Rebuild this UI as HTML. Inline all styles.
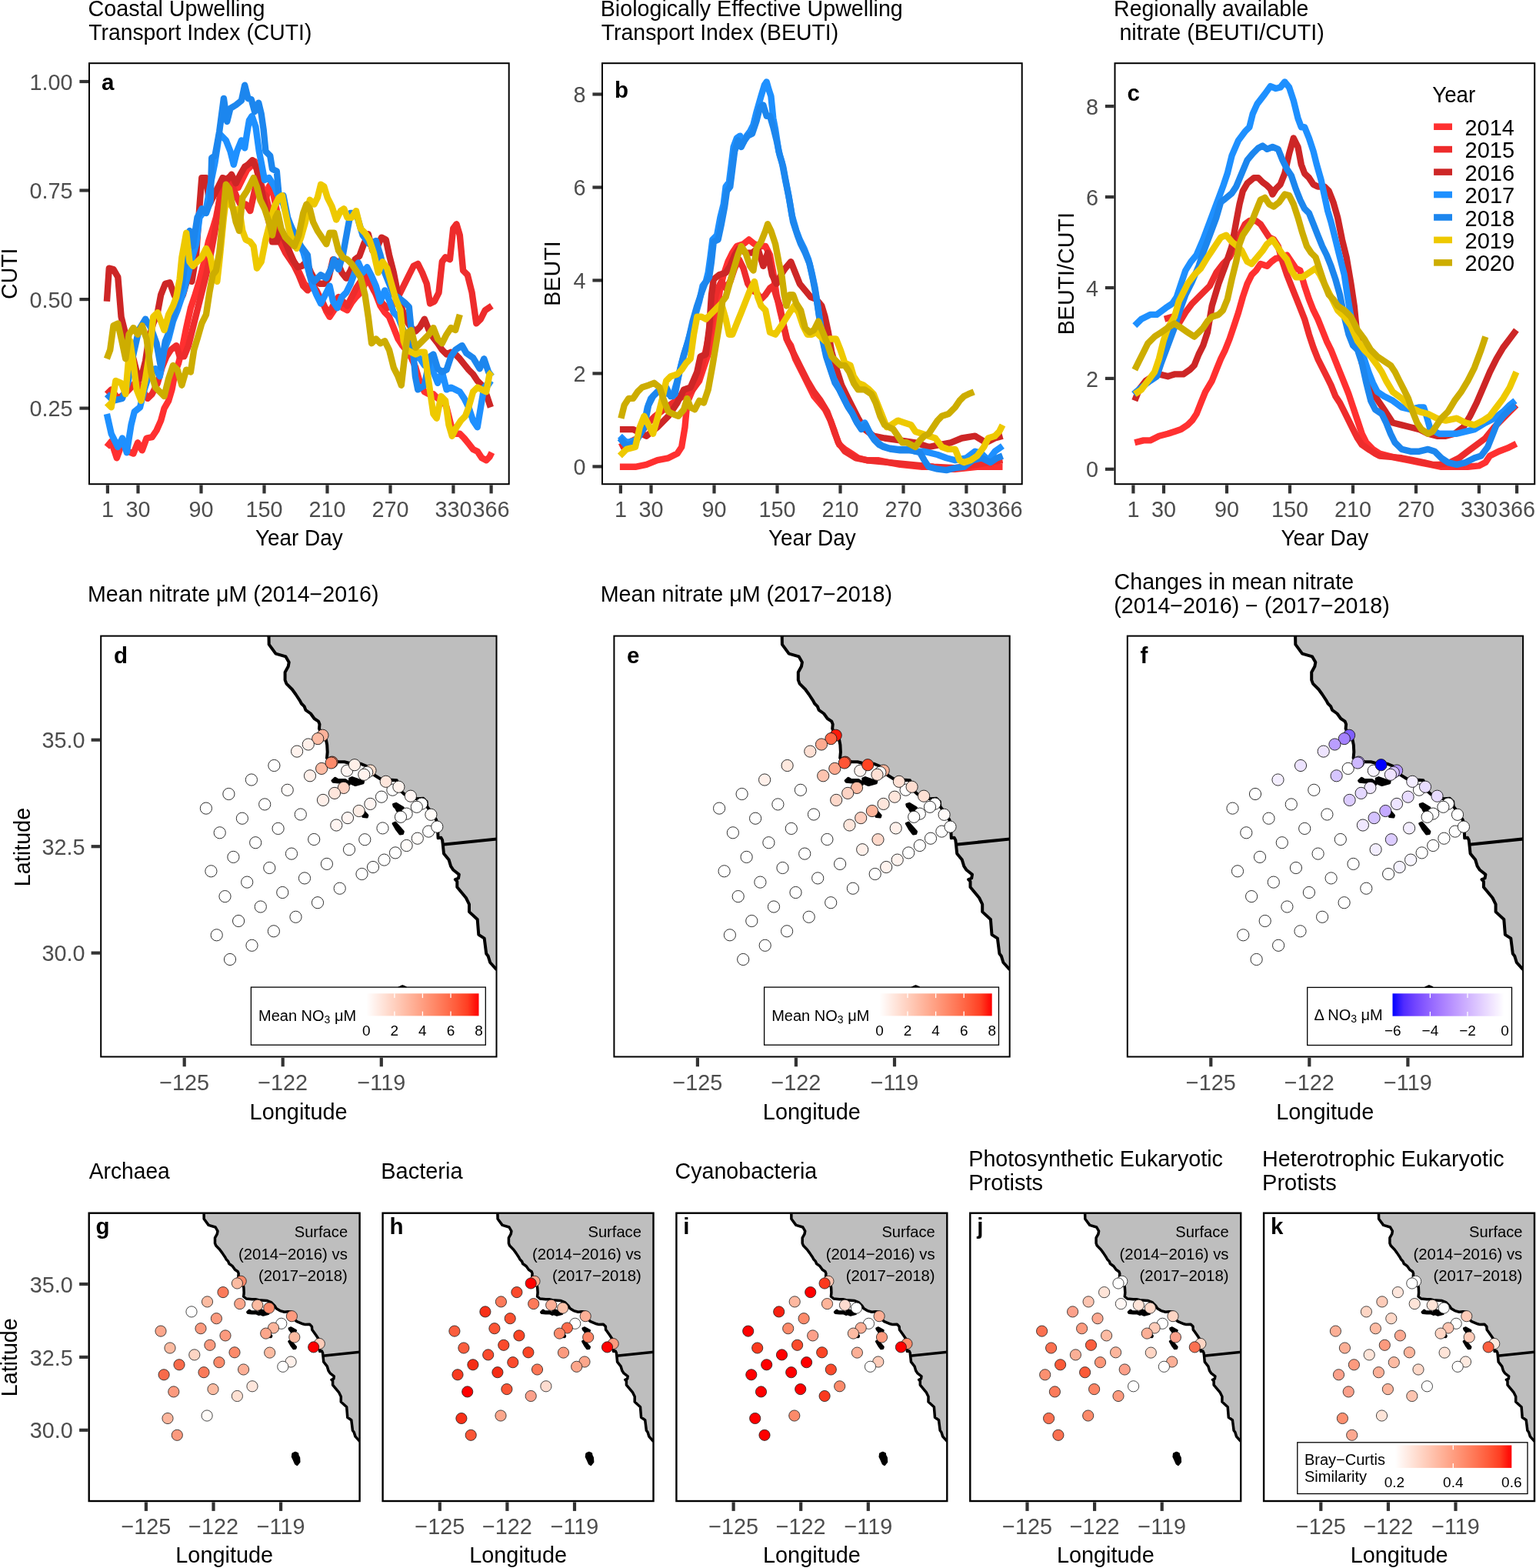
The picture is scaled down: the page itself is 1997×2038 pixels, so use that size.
<!DOCTYPE html><html><head><meta charset="utf-8"><style>html,body{margin:0;padding:0;background:#fff}svg{display:block}</style></head><body>
<svg xmlns="http://www.w3.org/2000/svg" width="1997" height="2038" viewBox="0 0 1997 2038" font-family="'Liberation Sans', Arial, Helvetica, sans-serif">
<rect width="1997" height="2038" fill="#fff"/>
<defs>
<linearGradient id="gR" x1="0" x2="1" y1="0" y2="0"><stop offset="0.000" stop-color="#FFFFFF"/><stop offset="0.100" stop-color="#FFECE5"/><stop offset="0.200" stop-color="#FFD9CB"/><stop offset="0.300" stop-color="#FFC6B2"/><stop offset="0.400" stop-color="#FFB299"/><stop offset="0.500" stop-color="#FF9E81"/><stop offset="0.600" stop-color="#FF8969"/><stop offset="0.700" stop-color="#FF7352"/><stop offset="0.800" stop-color="#FF5B3A"/><stop offset="0.900" stop-color="#FF3E22"/><stop offset="1.000" stop-color="#FF0000"/></linearGradient>
<linearGradient id="gB" x1="0" x2="1" y1="0" y2="0"><stop offset="0.000" stop-color="#0000FF"/><stop offset="0.100" stop-color="#502BFF"/><stop offset="0.200" stop-color="#7145FF"/><stop offset="0.300" stop-color="#8A5DFF"/><stop offset="0.400" stop-color="#A074FF"/><stop offset="0.500" stop-color="#B38BFF"/><stop offset="0.600" stop-color="#C4A2FF"/><stop offset="0.700" stop-color="#D4B9FF"/><stop offset="0.800" stop-color="#E3D0FF"/><stop offset="0.900" stop-color="#F2E7FF"/><stop offset="1.000" stop-color="#FFFFFF"/></linearGradient>
</defs>
<text transform="translate(114.4 21.4) scale(1 1.0)" font-size="28.8" textLength="230.08" lengthAdjust="spacingAndGlyphs">Coastal Upwelling</text>
<text transform="translate(115.2 52.2) scale(1 1.0)" font-size="28.8" textLength="290.16" lengthAdjust="spacingAndGlyphs">Transport Index (CUTI)</text>
<text transform="translate(780.7 21.4) scale(1 1.0)" font-size="28.8" textLength="393.09" lengthAdjust="spacingAndGlyphs">Biologically Effective Upwelling</text>
<text transform="translate(781.8 52.2) scale(1 1.0)" font-size="28.8" textLength="308.35" lengthAdjust="spacingAndGlyphs">Transport Index (BEUTI)</text>
<text transform="translate(1448.1 21.4) scale(1 1.0)" font-size="28.8" textLength="253.23" lengthAdjust="spacingAndGlyphs">Regionally available</text>
<text transform="translate(1455.4 52.2) scale(1 1.0)" font-size="28.8" textLength="266.31" lengthAdjust="spacingAndGlyphs">nitrate (BEUTI/CUTI)</text>
<clipPath id="cp0"><rect x="116" y="82.2" width="545.7" height="547"/></clipPath>
<g clip-path="url(#cp0)" fill="none" stroke-width="8.4" stroke-linejoin="round" stroke-linecap="butt">
<path d="M138.9 581 L144.7 573.8 L151.8 595.3 L159 575.3 L166.2 586.7 L173.4 589.6 L179.1 575.3 L184.8 585.3 L190.6 569.5 L197.7 568.1 L203.5 559.5 L209.2 546.6 L213.5 530.8 L219.2 520.8 L223.5 506.4 L227.8 483.5 L232.1 472 L236.4 454.8 L242.2 426.1 L247.9 400.3 L253.7 383.1 L259.4 364.5 L265.1 341.5 L270.9 314.3 L276.6 297.1 L280.9 282.7 L286.6 254.1 L292.4 241.2 L298.1 231.1 L303.8 235.4 L309.6 244 L315.3 232.6 L321 221.1 L326.8 215.4 L331.1 209.6 L335.4 226.8 L341.1 244 L345.4 259.8 L349.7 242.6 L352.6 238.3 L356.9 259.8 L361.2 279.9 L365.5 302.8 L371.2 314.3 L377 328.6 L382.7 341.5 L389.9 355.9 L395.6 368.8 L401.3 374.5 L407.1 368.8 L412.8 383.1 L418.6 390.3 L424.3 404.6 L428.6 411.8 L434.3 403.2 L440.1 393.2 L445.8 400.3 L451.5 403.2 L457.3 393.2 L463 386 L468.7 380.3 L474.5 368.8 L481.6 364.5 L488.8 383.1 L494.5 397.5 L500.3 406.1 L506 411.8 L511.8 426.1 L517.5 440.5 L523.2 449.1 L529 456.2 L534.7 464.9 L540.4 477.8 L546.2 497.8 L551.9 509.3 L557.6 512.2 L563.4 512.2 L569.1 517.9 L574.8 517.9 L580.6 529.4 L586.3 552.3 L592.1 563.8 L597.8 563.8 L603.5 569.5 L609.3 576.7 L615 583.9 L620.7 586.7 L626.5 595.3 L632.2 598.2 L636.5 593.9 L639.4 588.2" stroke="#FF3030"/>
<path d="M138.9 512.2 L144.7 506.4 L153.3 517.9 L161.9 512.2 L170.5 503.6 L177.7 495 L184.8 506.4 L192 517.9 L197.7 512.2 L204.9 497.8 L210.6 477.8 L216.4 463.4 L222.1 454.8 L229.3 449.1 L233.6 463.4 L239.3 463.4 L245.1 449.1 L250.8 426.1 L256.5 403.2 L262.3 380.3 L268 357.3 L273.7 331.5 L279.5 300 L285.2 259.8 L290.9 236.9 L296.7 231.1 L302.4 242.6 L308.1 256.9 L313.9 268.4 L319.6 265.5 L325.3 274.1 L329.7 254.1 L334 234 L339.7 248.3 L345.4 254.1 L349.7 271.3 L354 288.5 L359.8 308.6 L365.5 317.2 L371.2 328.6 L377 337.2 L382.7 345.8 L388.4 357.3 L394.2 371.6 L399.9 377.4 L405.6 371.6 L411.4 377.4 L417.1 388.9 L422.9 400.3 L428.6 406.1 L434.3 394.6 L440.1 386 L445.8 391.7 L451.5 397.5 L457.3 386 L463 374.5 L468.7 365.9 L474.5 357.3 L480.2 365.9 L485.9 377.4 L491.7 386 L497.4 394.6 L503.2 400.3 L508.9 397.5 L514.6 391.7 L520.4 380.3 L526.1 368.8 L531.8 357.3 L537.6 345.8 L543.3 343 L549 354.4 L554.8 368.8 L559.1 394.6 L564.8 391.7 L570.5 380.3 L574.8 340.1 L579.1 334.4 L584.9 337.2 L589.2 297.1 L593.5 291.3 L597.8 305.7 L602.1 351.6 L607.8 357.3 L613.6 380.3 L619.3 420.4 L625 414.7 L630.8 403.2 L639.4 397.5" stroke="#EE2C2C"/>
<path d="M138.9 391.7 L141.8 348.7 L147.5 350.1 L153.3 360.2 L157.6 411.8 L163.3 434.7 L169.1 451.9 L173.4 466.3 L177.7 483.5 L183.4 492.1 L189.1 469.2 L193.4 440.5 L199.2 420.4 L204.9 406.1 L209.2 383.1 L214.9 368.8 L220.7 367.3 L226.4 383.1 L232.1 394.6 L237.9 383.1 L243.6 363 L249.4 365.9 L255.1 331.5 L259.4 268.4 L262.3 231.1 L268 231.1 L272.3 265.5 L278 254.1 L283.8 242.6 L289.5 231.1 L295.2 234 L301 226.8 L306.7 238.3 L312.4 226.8 L318.2 216.8 L322.5 213.9 L328.2 208.2 L334 219.7 L339.7 245.5 L344 265.5 L349.7 288.5 L354 314.3 L359.8 314.3 L364.1 300 L369.8 311.4 L375.5 325.8 L381.3 338.7 L387 347.3 L392.7 345.8 L398.5 340.1 L404.2 354.4 L409.9 364.5 L415.7 368.8 L421.4 368.8 L427.2 361.6 L432.9 337.2 L438.6 340.1 L444.4 354.4 L450.1 361.6 L455.8 351.6 L461.6 337.2 L467.3 332.9 L473 317.2 L478.8 304.3 L484.5 325.8 L490.2 321.5 L496 308.6 L501.7 311.4 L506 331.5 L511.8 354.4 L517.5 383.1 L523.2 403.2 L529 417.5 L534.7 426.1 L540.4 430.4 L546.2 424.7 L551.9 414.7 L557.6 429 L563.4 439 L569.1 446.2 L574.8 454.8 L580.6 460.5 L586.3 457.7 L592.1 460.5 L597.8 466.3 L603.5 473.5 L609.3 480.6 L615 486.4 L620.7 495 L626.5 500.7 L632.2 512.2 L637.9 529.4" stroke="#CD2626"/>
<path d="M138.9 538 L144.7 563.8 L153.3 581 L159 569.5 L164.8 588.2 L170.5 552.3 L174.8 535.1 L182 529.4 L187.7 506.4 L194.9 483.5 L202 479.2 L207.8 489.2 L213.5 454.8 L219.2 440.5 L225 417.5 L230.7 403.2 L239.3 377.4 L245.1 354.4 L250.8 331.5 L255.1 317.2 L259.4 282.7 L268 271.3 L273.7 239.7 L279.5 211.1 L285.2 173.8 L293.8 182.4 L299.5 196.7 L303.8 213.9 L308.1 196.7 L313.9 182.4 L318.2 192.4 L321 173.8 L323.9 156.6 L327.6 150.8 L332.5 165.2 L336.8 196.7 L339.7 211.1 L344 234 L349.7 231.1 L356.9 242.6 L362.6 256.9 L368.4 265.5 L374.1 285.6 L379.8 297.1 L387 311.4 L394.2 327.2 L399.9 347.3 L405.6 368.8 L411.4 383.1 L417.1 394.6 L422.9 383.1 L428.6 371.6 L432.9 391.7 L438.6 400.3 L444.4 386 L450.1 380.3 L455.8 368.8 L460.1 357.3 L465.9 341.5 L471.6 354.4 L477.3 347.3 L483.1 358.7 L488.8 371.6 L494.5 391.7 L500.3 377.4 L506 390.3 L511.8 406.1 L517.5 411.8 L523.2 426.1 L529 440.5 L534.7 454.8 L540.4 463.4 L546.2 466.3 L551.9 474.9 L557.6 466.3 L563.4 483.5 L569.1 497.8 L574.8 483.5 L580.6 506.4 L586.3 503.6 L592.1 506.4 L597.8 509.3 L603.5 517.9 L609.3 529.4 L615 546.6 L620.7 555.2 L625 529.4 L629.3 503.6 L635.1 497.8 L639.4 500.7" stroke="#1E90FF"/>
<path d="M138.9 512.2 L147.5 520.8 L159 517.9 L166.2 497.8 L173.4 460.5 L180.5 429 L189.1 414.7 L196.3 426.1 L203.5 446.2 L209.2 477.8 L214.9 443.3 L222.1 426.1 L229.3 394.6 L236.4 371.6 L242.2 331.5 L246.5 300 L250.8 320 L256.5 282.7 L262.3 271.3 L268 277 L273.7 261.2 L275.2 205.3 L279.5 202.4 L285.2 170.9 L290.9 127.9 L295.2 158 L299.5 140.8 L306.7 136.5 L313.9 130.8 L318.2 110.7 L322.5 127.9 L326.8 129.3 L331.1 145.1 L336.2 133.6 L339.7 148 L342.6 168 L345.4 196.7 L351.2 202.4 L354 219.7 L359.8 222.5 L362.6 254.1 L368.4 254.1 L374.1 282.7 L382.7 305.7 L391.3 320 L399.9 331.5 L402.8 357.3 L408.5 365.9 L417.1 357.3 L424.3 361.6 L430 350.1 L434.3 337.2 L440.1 350.1 L445.8 331.5 L451.5 300 L455.8 277 L463 277 L471.6 305.7 L480.2 317.2 L488.8 312.9 L494.5 331.5 L500.3 354.4 L506 368.8 L511.8 383.1 L518.9 387.4 L526.1 393.2 L531.8 398.9 L536.1 443.3 L539.9 489.2 L543.3 506.4 L547.6 503.6 L551.9 500.7 L559.1 463.4 L563.4 460.5 L569.1 479.2 L574.8 483.5 L580.6 480.6 L586.3 463.4 L592.1 454.8 L600.7 449.1 L606.4 459.1 L615 464.9 L623.6 479.2 L629.3 466.3 L635.1 483.5 L639.4 489.2" stroke="#1C86EE"/>
<path d="M138.9 523.6 L144.7 529.4 L150.4 495 L157.6 497.8 L163.3 512.2 L169.1 443.3 L173.4 472 L177.7 506.4 L183.4 520.8 L189.1 492.1 L194.9 454.8 L199.2 411.8 L204.9 406.1 L209.2 417.5 L213.5 429 L219.2 408.9 L225 397.5 L229.3 386 L233.6 363 L236.4 334.4 L242.2 302.8 L246.5 340.1 L250.8 345.8 L256.5 340.1 L262.3 334.4 L268 322.9 L273.7 334.4 L278 357.3 L282.3 365.9 L285.2 340.1 L288.1 311.4 L290.9 282.7 L293.8 259.8 L299.5 265.5 L305.3 274.1 L311 271.3 L315.3 300 L319.6 311.4 L325.3 314.3 L329.7 320 L334 348.7 L339.7 340.1 L345.4 311.4 L351.2 288.5 L356.9 268.4 L362.6 256.9 L366.9 254.1 L371.2 277 L375.5 297.1 L379.8 311.4 L385.6 322.9 L391.3 308.6 L397 288.5 L402.8 259.8 L408.5 265.5 L412.8 256.9 L417.1 239.7 L421.4 242.6 L425.7 256.9 L431.5 268.4 L437.2 285.6 L442.9 274.1 L447.2 271.3 L451.5 282.7 L457.3 282.7 L463 274.1 L468.7 297.1 L474.5 302.8 L480.2 311.4 L485.9 328.6 L491.7 354.4 L497.4 340.1 L503.2 348.7 L508.9 368.8 L514.6 388.9 L520.4 403.2 L524.7 443.3 L529 454.8 L534.7 457.7 L540.4 460.5 L546.2 457.7 L551.9 457.7 L557.6 497.8 L563.4 538 L567.7 543.7 L573.4 515 L579.1 520.8 L583.5 552.3 L587.8 566.7 L593.5 555.2 L599.2 546.6 L605 540.8 L609.3 529.4 L615 509.3 L620.7 503.6 L626.5 506.4 L632.2 509.3 L636.5 486.4 L639.4 483.5" stroke="#EEC900"/>
<path d="M138.9 466.3 L143.2 454.8 L147.5 423.3 L153.3 420.4 L159 446.2 L163.3 466.3 L167.6 434.7 L173.4 426.1 L179.1 434.7 L184.8 423.3 L190.6 440.5 L196.3 483.5 L202 503.6 L207.8 509.3 L213.5 515 L219.2 492.1 L225 474.9 L230.7 480.6 L236.4 500.7 L242.2 480.6 L247.9 483.5 L252.2 454.8 L256.5 440.5 L262.3 420.4 L268 408.9 L272.3 380.3 L276.6 357.3 L280.9 351.6 L285.2 328.6 L289.5 285.6 L293.8 239.7 L298.1 245.5 L302.4 268.4 L306.7 288.5 L311 300 L315.3 256.9 L321 248.3 L326.8 236.9 L329.7 231.1 L334 242.6 L338.3 259.8 L344 271.3 L349.7 288.5 L354 305.7 L358.3 282.7 L361.2 277 L365.5 297.1 L371.2 308.6 L377 314.3 L382.7 320 L388.4 305.7 L394.2 277 L398.5 265.5 L402.8 271.3 L407.1 288.5 L412.8 300 L418.6 308.6 L424.3 317.2 L428.6 302.8 L434.3 302.8 L440.1 325.8 L445.8 334.4 L451.5 337.2 L457.3 343 L463 351.6 L468.7 360.2 L474.5 383.1 L478.8 411.8 L483.1 446.2 L488.8 440.5 L494.5 446.2 L500.3 443.3 L506 454.8 L511.8 477.8 L517.5 489.2 L521.8 500.7 L526.1 463.4 L530.4 431.9 L534.7 429 L540.4 451.9 L546.2 446.2 L551.9 440.5 L557.6 434.7 L563.4 426.1 L569.1 440.5 L574.8 446.2 L580.6 434.7 L586.3 426.1 L592.1 429 L597.8 408.9" stroke="#CDAD00"/>
</g>
<rect x="116" y="82.2" width="545.7" height="547" fill="none" stroke="#000" stroke-width="2"/>
<line x1="103.4" y1="106" x2="115" y2="106" stroke="#333333" stroke-width="4.2"/>
<text transform="translate(94.5 116.6) scale(1 1.0)" font-size="28.8" text-anchor="end" fill="#4D4D4D">1.00</text>
<line x1="103.4" y1="247.5" x2="115" y2="247.5" stroke="#333333" stroke-width="4.2"/>
<text transform="translate(94.5 258.1) scale(1 1.0)" font-size="28.8" text-anchor="end" fill="#4D4D4D">0.75</text>
<line x1="103.4" y1="389.1" x2="115" y2="389.1" stroke="#333333" stroke-width="4.2"/>
<text transform="translate(94.5 399.7) scale(1 1.0)" font-size="28.8" text-anchor="end" fill="#4D4D4D">0.50</text>
<line x1="103.4" y1="530.6" x2="115" y2="530.6" stroke="#333333" stroke-width="4.2"/>
<text transform="translate(94.5 541.2) scale(1 1.0)" font-size="28.8" text-anchor="end" fill="#4D4D4D">0.25</text>
<line x1="139.9" y1="630.4" x2="139.9" y2="641.4" stroke="#333333" stroke-width="4.2"/>
<text transform="translate(139.9 671.6) scale(1 1.0)" font-size="28.8" text-anchor="middle" fill="#4D4D4D">1</text>
<line x1="179.5" y1="630.4" x2="179.5" y2="641.4" stroke="#333333" stroke-width="4.2"/>
<text transform="translate(179.5 671.6) scale(1 1.0)" font-size="28.8" text-anchor="middle" fill="#4D4D4D">30</text>
<line x1="261.5" y1="630.4" x2="261.5" y2="641.4" stroke="#333333" stroke-width="4.2"/>
<text transform="translate(261.5 671.6) scale(1 1.0)" font-size="28.8" text-anchor="middle" fill="#4D4D4D">90</text>
<line x1="343.5" y1="630.4" x2="343.5" y2="641.4" stroke="#333333" stroke-width="4.2"/>
<text transform="translate(343.5 671.6) scale(1 1.0)" font-size="28.8" text-anchor="middle" fill="#4D4D4D">150</text>
<line x1="425.5" y1="630.4" x2="425.5" y2="641.4" stroke="#333333" stroke-width="4.2"/>
<text transform="translate(425.5 671.6) scale(1 1.0)" font-size="28.8" text-anchor="middle" fill="#4D4D4D">210</text>
<line x1="507.5" y1="630.4" x2="507.5" y2="641.4" stroke="#333333" stroke-width="4.2"/>
<text transform="translate(507.5 671.6) scale(1 1.0)" font-size="28.8" text-anchor="middle" fill="#4D4D4D">270</text>
<line x1="589.4" y1="630.4" x2="589.4" y2="641.4" stroke="#333333" stroke-width="4.2"/>
<text transform="translate(589.4 671.6) scale(1 1.0)" font-size="28.8" text-anchor="middle" fill="#4D4D4D">330</text>
<line x1="638.6" y1="630.4" x2="638.6" y2="641.4" stroke="#333333" stroke-width="4.2"/>
<text transform="translate(638.6 671.6) scale(1 1.0)" font-size="28.8" text-anchor="middle" fill="#4D4D4D">366</text>
<text transform="translate(331.9 708.8) scale(1 1.0)" font-size="28.8" textLength="113.88" lengthAdjust="spacingAndGlyphs">Year Day</text>
<text transform="translate(22.3 387.5) rotate(-90)" x="-1.4" y="0" font-size="28.8" textLength="66.37" lengthAdjust="spacingAndGlyphs">CUTI</text>
<text transform="translate(132 117.1) scale(1 1.0)" font-size="29.5" font-weight="bold">a</text>
<clipPath id="cp1"><rect x="783" y="82.2" width="545.7" height="547"/></clipPath>
<g clip-path="url(#cp1)" fill="none" stroke-width="8.4" stroke-linejoin="round" stroke-linecap="butt">
<path d="M805.9 606.8 L826 606.8 L840.4 603.9 L854.7 598.2 L869 595.3 L880.5 589.6 L886.2 581 L890.5 555.2 L893.4 523.6 L900.6 506.4 L909.2 495 L914.9 477.8 L920.7 460.5 L926.4 434.7 L932.1 403.2 L936.4 374.5 L940.7 357.3 L946.5 340.1 L952.2 328.6 L957.9 320 L966.5 317.2 L973.7 311.4 L980.9 317.2 L988 320 L995.2 320 L1001 331.5 L1005.3 354.4 L1009.6 383.1 L1013.9 403.2 L1018.2 420.4 L1022.5 440.5 L1028.2 449.1 L1033.9 466.3 L1039.7 477.8 L1045.4 489.2 L1051.1 500.7 L1058.3 515 L1065.5 523.6 L1072.6 532.2 L1079.8 546.6 L1085.6 563.8 L1091.3 578.1 L1098.5 583.9 L1107.1 589.6 L1115.7 595.3 L1127.1 598.2 L1141.5 598.2 L1155.8 601.1 L1170.2 603.9 L1184.5 605.4 L1198.8 606.8 L1213.2 606.8 L1227.5 609.7 L1241.8 609.7 L1256.2 608.2 L1270.5 606.8 L1284.9 606.8 L1303.5 606.8" stroke="#FF3030"/>
<path d="M805.9 581 L817.4 575.3 L828.9 569.5 L840.4 552.3 L851.8 540.8 L863.3 532.2 L874.8 523.6 L883.4 517.9 L892 512.2 L900.6 506.4 L906.3 497.8 L912.1 477.8 L917.8 454.8 L923.5 426.1 L927.8 397.5 L932.1 377.4 L937.9 365.9 L943.6 374.5 L949.3 365.9 L955.1 348.7 L960.8 337.2 L966.5 348.7 L972.3 368.8 L978 377.4 L983.7 380.3 L989.5 388.9 L995.2 383.1 L1001 374.5 L1005.3 371.6 L1009.6 386 L1013.9 397.5 L1018.2 420.4 L1023.9 443.3 L1029.6 454.8 L1035.4 466.3 L1041.1 477.8 L1049.7 495 L1058.3 509.3 L1066.9 520.8 L1075.5 535.1 L1084.1 558.1 L1089.9 575.3 L1098.5 586.7 L1112.8 595.3 L1127.1 598.2 L1155.8 601.1 L1184.5 603.9 L1213.2 606.8 L1241.8 608.2 L1270.5 603.9 L1284.9 601.1 L1303.5 598.2" stroke="#EE2C2C"/>
<path d="M805.9 558.1 L823.1 558.1 L840.4 566.7 L854.7 555.2 L869 540.8 L880.5 523.6 L889.1 506.4 L897.7 503.6 L906.3 483.5 L910.6 463.4 L917.8 460.5 L922.1 426.1 L925 383.1 L927.8 363 L935 357.3 L943.6 354.4 L949.3 345.8 L955.1 331.5 L960.8 322.9 L969.4 328.6 L978 328.6 L985.2 322.9 L992.3 345.8 L998.1 328.6 L1003.8 357.3 L1009.6 368.8 L1015.3 357.3 L1021 348.7 L1028.2 340.1 L1033.9 354.4 L1039.7 368.8 L1046.8 377.4 L1054 386 L1061.2 388.9 L1068.3 397.5 L1072.6 411.8 L1076.9 431.9 L1081.3 457.7 L1087 477.8 L1094.2 500.7 L1101.3 515 L1108.5 529.4 L1115.7 543.7 L1124.3 558.1 L1135.7 566.7 L1150.1 569.5 L1170.2 572.4 L1190.2 575.3 L1207.4 581 L1221.8 578.1 L1236.1 575.3 L1250.5 569.5 L1267.7 566.7 L1282 575.3 L1293.5 569.5 L1303.5 566.7" stroke="#CD2626"/>
<path d="M805.9 566.7 L814.5 575.3 L826 572.4 L836.1 558.1 L841.8 529.4 L846.1 517.9 L854.7 509.3 L863.3 506.4 L869 512.2 L874.8 515 L880.5 495 L886.2 472 L892 451.9 L897.7 431.9 L903.4 411.8 L909.2 391.7 L913.5 371.6 L917.8 365.9 L920.7 354.4 L923.5 334.4 L926.4 311.4 L932.1 305.7 L936.4 282.7 L940.7 265.5 L943.6 242.6 L947.9 236.9 L950.8 213.9 L953.6 191 L957.9 179.5 L962.2 176.6 L966.5 185.2 L970.8 176.6 L975.1 170.9 L979.4 162.3 L983.7 145.1 L989.5 125 L993.8 110.7 L996.7 106.4 L999.5 116.4 L1002.4 125 L1005.3 153.7 L1008.1 168 L1012.4 196.7 L1016.7 211.1 L1021 234 L1025.3 254.1 L1029.6 279.9 L1035.4 300 L1039.7 311.4 L1045.4 322.9 L1051.1 337.2 L1055.4 354.4 L1059.7 374.5 L1064 403.2 L1068.3 431.9 L1072.6 454.8 L1078.4 474.9 L1084.1 492.1 L1089.9 503.6 L1095.6 515 L1101.3 526.5 L1107.1 535.1 L1112.8 546.6 L1118.5 555.2 L1124.3 549.5 L1130 560.9 L1135.7 569.5 L1141.5 575.3 L1147.2 579.6 L1155.8 582.4 L1167.3 583.9 L1178.8 583.9 L1190.2 586.7 L1200.3 586.7 L1207.4 588.2 L1218.9 591 L1230.4 595.3 L1241.8 598.2 L1256.2 595.3 L1267.7 586.7 L1276.3 589.6 L1284.9 598.2 L1293.5 586.7 L1303.5 579.6" stroke="#1E90FF"/>
<path d="M805.9 569.5 L814.5 579.6 L826 575.3 L837.5 555.2 L843.2 526.5 L849 515 L857.6 506.4 L866.2 503.6 L871.9 515 L877.6 512.2 L883.4 483.5 L889.1 460.5 L894.8 443.3 L900.6 417.5 L906.3 397.5 L912.1 380.3 L916.4 368.8 L922.1 360.2 L925 340.1 L927.8 314.3 L933.6 311.4 L937.9 291.3 L942.2 268.4 L945 248.3 L949.3 242.6 L952.2 219.7 L955.1 196.7 L959.4 182.4 L963.7 191 L968 182.4 L972.3 176.6 L978 173.8 L983.7 156.6 L988 139.4 L992.3 136.5 L996.7 150.8 L1001 150.8 L1005.3 165.2 L1009.6 182.4 L1013.9 202.4 L1018.2 216.8 L1022.5 239.7 L1026.8 262.7 L1031.1 288.5 L1036.8 305.7 L1041.1 317.2 L1046.8 328.6 L1052.6 343 L1056.9 363 L1061.2 386 L1065.5 414.7 L1069.8 443.3 L1074.1 463.4 L1079.8 480.6 L1085.6 497.8 L1091.3 506.4 L1097 517.9 L1102.8 529.4 L1108.5 538 L1114.2 549.5 L1120 558.1 L1125.7 552.3 L1131.4 563.8 L1137.2 572.4 L1142.9 578.1 L1148.6 581 L1158.7 583.9 L1170.2 585.3 L1184.5 585.3 L1196 588.2 L1201.7 598.2 L1207.4 606.8 L1218.9 609.7 L1230.4 611.1 L1241.8 608.2 L1253.3 606.8 L1264.8 598.2 L1276.3 595.3 L1287.7 601.1 L1296.3 595.3 L1303.5 592.5" stroke="#1C86EE"/>
<path d="M805.9 592.5 L814.5 583.9 L826 581 L831.8 555.2 L837.5 540.8 L843.2 552.3 L849 563.8 L854.7 543.7 L860.4 520.8 L866.2 495 L871.9 489.2 L880.5 486.4 L886.2 480.6 L892 472 L897.7 466.3 L902 434.7 L906.3 411.8 L912.1 411.8 L917.8 414.7 L923.5 408.9 L932.1 400.3 L937.9 394.6 L943.6 414.7 L947.9 434.7 L952.2 434.7 L957.9 420.4 L963.7 406.1 L969.4 391.7 L975.1 377.4 L980.9 365.9 L985.2 386 L989.5 397.5 L995.2 403.2 L1001 431.9 L1008.1 434.7 L1013.9 426.1 L1019.6 417.5 L1026.8 406.1 L1032.5 397.5 L1038.2 406.1 L1044 423.3 L1049.7 434.7 L1055.4 434.7 L1061.2 431.9 L1066.9 437.6 L1072.6 443.3 L1078.4 440.5 L1087 440.5 L1092.7 454.8 L1098.5 472 L1105.6 474.9 L1109.9 489.2 L1115.7 497.8 L1122.8 500.7 L1130 506.4 L1135.7 512.2 L1141.5 526.5 L1147.2 540.8 L1152.9 555.2 L1158.7 552.3 L1167.3 546.6 L1175.9 549.5 L1184.5 552.3 L1190.2 560.9 L1198.8 563.8 L1207.4 566.7 L1216 569.5 L1224.6 581 L1233.2 583.9 L1241.8 583.9 L1247.6 598.2 L1253.3 601.1 L1261.9 598.2 L1270.5 592.5 L1279.1 581 L1284.9 569.5 L1293.5 566.7 L1299.2 560.9 L1303.5 552.3" stroke="#EEC900"/>
<path d="M807.4 543.7 L811.7 526.5 L817.4 517.9 L823.1 517.9 L828.9 509.3 L834.6 503.6 L843.2 500.7 L850.4 497.8 L857.6 503.6 L863.3 520.8 L869 535.1 L874.8 538 L881.9 540.8 L889.1 532.2 L893.4 517.9 L897.7 529.4 L903.4 532.2 L909.2 520.8 L914.9 523.6 L920.7 506.4 L926.4 474.9 L930.7 449.1 L935 423.3 L939.3 391.7 L943.6 386 L949.3 365.9 L955.1 345.8 L959.4 331.5 L963.7 320 L969.4 328.6 L975.1 345.8 L979.4 351.6 L983.7 322.9 L989.5 314.3 L995.2 300 L998.1 291.3 L1002.4 300 L1008.1 317.2 L1012.4 340.1 L1016.7 360.2 L1019.6 383.1 L1022.5 397.5 L1026.8 383.1 L1031.1 383.1 L1035.4 394.6 L1041.1 403.2 L1046.8 426.1 L1052.6 431.9 L1058.3 429 L1064 417.5 L1069.8 431.9 L1075.5 446.2 L1081.3 463.4 L1087 469.2 L1092.7 474.9 L1098.5 474.9 L1104.2 483.5 L1109.9 497.8 L1115.7 506.4 L1124.3 506.4 L1132.9 512.2 L1138.6 523.6 L1144.3 540.8 L1150.1 552.3 L1155.8 555.2 L1161.5 558.1 L1167.3 566.7 L1173 575.3 L1178.8 575.3 L1184.5 578.1 L1190.2 581 L1196 572.4 L1201.7 566.7 L1207.4 563.8 L1213.2 555.2 L1218.9 546.6 L1224.6 540.8 L1233.2 538 L1241.8 529.4 L1247.6 520.8 L1253.3 515 L1259.1 512.2 L1266.2 509.3" stroke="#CDAD00"/>
</g>
<rect x="783" y="82.2" width="545.7" height="547" fill="none" stroke="#000" stroke-width="2"/>
<line x1="770.4" y1="122.5" x2="782" y2="122.5" stroke="#333333" stroke-width="4.2"/>
<text transform="translate(761.5 133.1) scale(1 1.0)" font-size="28.8" text-anchor="end" fill="#4D4D4D">8</text>
<line x1="770.4" y1="243.5" x2="782" y2="243.5" stroke="#333333" stroke-width="4.2"/>
<text transform="translate(761.5 254.1) scale(1 1.0)" font-size="28.8" text-anchor="end" fill="#4D4D4D">6</text>
<line x1="770.4" y1="364.4" x2="782" y2="364.4" stroke="#333333" stroke-width="4.2"/>
<text transform="translate(761.5 375) scale(1 1.0)" font-size="28.8" text-anchor="end" fill="#4D4D4D">4</text>
<line x1="770.4" y1="485.4" x2="782" y2="485.4" stroke="#333333" stroke-width="4.2"/>
<text transform="translate(761.5 496) scale(1 1.0)" font-size="28.8" text-anchor="end" fill="#4D4D4D">2</text>
<line x1="770.4" y1="606.4" x2="782" y2="606.4" stroke="#333333" stroke-width="4.2"/>
<text transform="translate(761.5 617) scale(1 1.0)" font-size="28.8" text-anchor="end" fill="#4D4D4D">0</text>
<line x1="806.9" y1="630.4" x2="806.9" y2="641.4" stroke="#333333" stroke-width="4.2"/>
<text transform="translate(806.9 671.6) scale(1 1.0)" font-size="28.8" text-anchor="middle" fill="#4D4D4D">1</text>
<line x1="846.5" y1="630.4" x2="846.5" y2="641.4" stroke="#333333" stroke-width="4.2"/>
<text transform="translate(846.5 671.6) scale(1 1.0)" font-size="28.8" text-anchor="middle" fill="#4D4D4D">30</text>
<line x1="928.5" y1="630.4" x2="928.5" y2="641.4" stroke="#333333" stroke-width="4.2"/>
<text transform="translate(928.5 671.6) scale(1 1.0)" font-size="28.8" text-anchor="middle" fill="#4D4D4D">90</text>
<line x1="1010.5" y1="630.4" x2="1010.5" y2="641.4" stroke="#333333" stroke-width="4.2"/>
<text transform="translate(1010.5 671.6) scale(1 1.0)" font-size="28.8" text-anchor="middle" fill="#4D4D4D">150</text>
<line x1="1092.5" y1="630.4" x2="1092.5" y2="641.4" stroke="#333333" stroke-width="4.2"/>
<text transform="translate(1092.5 671.6) scale(1 1.0)" font-size="28.8" text-anchor="middle" fill="#4D4D4D">210</text>
<line x1="1174.5" y1="630.4" x2="1174.5" y2="641.4" stroke="#333333" stroke-width="4.2"/>
<text transform="translate(1174.5 671.6) scale(1 1.0)" font-size="28.8" text-anchor="middle" fill="#4D4D4D">270</text>
<line x1="1256.4" y1="630.4" x2="1256.4" y2="641.4" stroke="#333333" stroke-width="4.2"/>
<text transform="translate(1256.4 671.6) scale(1 1.0)" font-size="28.8" text-anchor="middle" fill="#4D4D4D">330</text>
<line x1="1305.6" y1="630.4" x2="1305.6" y2="641.4" stroke="#333333" stroke-width="4.2"/>
<text transform="translate(1305.6 671.6) scale(1 1.0)" font-size="28.8" text-anchor="middle" fill="#4D4D4D">366</text>
<text transform="translate(998.9 708.8) scale(1 1.0)" font-size="28.8" textLength="113.88" lengthAdjust="spacingAndGlyphs">Year Day</text>
<text transform="translate(728.2 395.4) rotate(-90)" x="-2.4" y="0" font-size="28.8" textLength="84.41" lengthAdjust="spacingAndGlyphs">BEUTI</text>
<text transform="translate(799 127.4) scale(1 1.0)" font-size="29.5" font-weight="bold">b</text>
<clipPath id="cp2"><rect x="1449.5" y="82.2" width="545.7" height="547"/></clipPath>
<g clip-path="url(#cp2)" fill="none" stroke-width="8.4" stroke-linejoin="round" stroke-linecap="butt">
<path d="M1475.3 575.3 L1486.8 572.4 L1495.4 572.4 L1506.9 566.7 L1518.3 563.8 L1526.9 560.9 L1535.5 558.1 L1544.1 552.3 L1549.9 546.6 L1555.6 538 L1561.3 523.6 L1567.1 509.3 L1575.7 495 L1581.4 480.6 L1587.2 466.3 L1592.9 454.8 L1598.6 440.5 L1604.4 423.3 L1610.1 406.1 L1615.8 386 L1621.6 368.8 L1627.3 357.3 L1633 351.6 L1638.8 343 L1647.4 345.8 L1653.1 340.1 L1658.8 335.8 L1667.5 334.4 L1673.2 331.5 L1678.9 340.1 L1684.7 348.7 L1690.4 351.6 L1696.1 371.6 L1701.9 388.9 L1707.6 403.2 L1713.3 414.7 L1719.1 429 L1724.8 443.3 L1730.5 454.8 L1736.3 469.2 L1742 483.5 L1747.8 497.8 L1753.5 512.2 L1759.2 529.4 L1765 546.6 L1770.7 563.8 L1776.4 575.3 L1785 583.9 L1793.6 589.6 L1805.1 592.5 L1816.6 595.3 L1830.9 598.2 L1845.3 601.1 L1859.6 603.9 L1873.9 606.8 L1891.1 606.8 L1908.3 606.8 L1922.7 605.4 L1931.3 601.1 L1937 592.5 L1948.5 586.7 L1960 582.4 L1971.4 576.7" stroke="#FF3030"/>
<path d="M1514 414.7 L1524.1 411.8 L1532.7 420.4 L1541.3 406.1 L1549.9 394.6 L1561.3 383.1 L1572.8 371.6 L1581.4 354.4 L1590 343 L1598.6 334.4 L1607.2 317.2 L1613 302.8 L1618.7 291.3 L1624.4 287 L1633 287 L1638.8 291.3 L1644.5 300 L1650.2 308.6 L1656 311.4 L1661.7 320 L1667.5 340.1 L1673.2 357.3 L1678.9 371.6 L1684.7 386 L1690.4 400.3 L1696.1 414.7 L1701.9 434.7 L1707.6 451.9 L1713.3 466.3 L1719.1 477.8 L1724.8 489.2 L1730.5 500.7 L1736.3 515 L1742 523.6 L1747.8 535.1 L1753.5 546.6 L1759.2 558.1 L1765 569.5 L1770.7 578.1 L1779.3 583.9 L1787.9 589.6 L1793.6 592.5 L1808 593.9 L1822.3 595.3 L1836.7 598.2 L1851 601.1 L1862.5 603.9 L1871.1 603.9 L1885.4 601.1 L1896.9 595.3 L1908.3 586.7 L1919.8 578.1 L1931.3 569.5 L1942.8 555.2 L1954.2 543.7 L1962.8 535.1 L1971.4 526.5" stroke="#EE2C2C"/>
<path d="M1475.3 520.8 L1481 506.4 L1489.6 495 L1498.3 489.2 L1506.9 486.4 L1518.3 489.2 L1526.9 486.4 L1538.4 486.4 L1547 480.6 L1552.7 474.9 L1558.5 460.5 L1564.2 449.1 L1569.9 431.9 L1575.7 397.5 L1584.3 368.8 L1592.9 345.8 L1601.5 320 L1607.2 288.5 L1611.5 265.5 L1615.8 248.3 L1621.6 238.3 L1630.2 231.1 L1635.9 231.1 L1641.6 236.9 L1647.4 241.2 L1651.7 245.5 L1654.5 252.6 L1658.8 245.5 L1664.6 239.7 L1670.3 225.4 L1676.1 199.6 L1681.8 179.5 L1687.5 191 L1691.8 213.9 L1696.1 225.4 L1701.9 231.1 L1707.6 239.7 L1713.3 242.6 L1721.9 242.6 L1727.7 248.3 L1733.4 262.7 L1739.1 282.7 L1744.9 311.4 L1750.6 334.4 L1756.4 368.8 L1760.7 397.5 L1763.5 426.1 L1767.8 454.8 L1770.7 472 L1776.4 483.5 L1782.2 497.8 L1787.9 515 L1793.6 523.6 L1799.4 532.2 L1805.1 540.8 L1810.8 549.5 L1822.3 552.3 L1833.8 555.2 L1845.3 558.1 L1856.7 563.8 L1868.2 566.7 L1879.7 566.7 L1891.1 563.8 L1902.6 555.2 L1911.2 540.8 L1919.8 523.6 L1928.4 503.6 L1937 483.5 L1945.6 466.3 L1954.2 451.9 L1962.8 440.5 L1971.4 429" stroke="#CD2626"/>
<path d="M1475.3 423.3 L1483.9 414.7 L1495.4 408.9 L1504 408.9 L1515.5 400.3 L1524.1 394.6 L1529.8 386 L1535.5 368.8 L1541.3 351.6 L1548.4 340.1 L1555.6 331.5 L1564.2 311.4 L1572.8 288.5 L1581.4 265.5 L1590 242.6 L1595.8 225.4 L1601.5 202.4 L1610.1 182.4 L1618.7 170.9 L1624.4 165.2 L1628.7 148 L1634.5 135.1 L1644.5 122.1 L1651.7 112.1 L1658.8 115 L1664.6 113.5 L1670.3 106.4 L1676.1 113.5 L1681.8 130.8 L1687.5 153.7 L1691.8 165.2 L1696.1 165.2 L1701.9 179.5 L1707.6 196.7 L1711.9 213.9 L1717.6 234 L1721.9 254.1 L1726.2 274.1 L1730.5 288.5 L1736.3 311.4 L1742 334.4 L1747.8 357.3 L1752.1 386 L1756.4 411.8 L1762.1 440.5 L1767.8 454.8 L1773.6 466.3 L1779.3 483.5 L1785 497.8 L1790.8 509.3 L1799.4 515 L1810.8 520.8 L1822.3 529.4 L1833.8 532.2 L1845.3 529.4 L1851 529.4 L1853.9 538 L1859.6 558.1 L1871.1 563.8 L1882.5 563.8 L1894 563.8 L1905.5 560.9 L1917 558.1 L1931.3 549.5 L1942.8 543.7 L1954.2 535.1 L1962.8 526.5 L1970 520.8" stroke="#1E90FF"/>
<path d="M1473.9 512.2 L1483.9 503.6 L1495.4 495 L1504 489.2 L1509.7 472 L1518.3 449.1 L1526.9 426.1 L1534.1 403.2 L1541.3 383.1 L1549.9 365.9 L1558.5 345.8 L1564.2 328.6 L1572.8 305.7 L1581.4 282.7 L1587.2 262.7 L1592.9 258.4 L1601.5 251.2 L1607.2 242.6 L1614.4 225.4 L1621.6 208.2 L1628.7 199.6 L1635.9 192.4 L1641.6 189.5 L1647.4 193.8 L1654.5 191 L1661.7 193.8 L1667.5 208.2 L1673.2 219.7 L1678.9 228.3 L1684.7 245.5 L1690.4 259.8 L1696.1 271.3 L1701.9 277 L1707.6 291.3 L1713.3 305.7 L1719.1 320 L1724.8 331.5 L1730.5 345.8 L1736.3 363 L1742 383.1 L1747.8 411.8 L1753.5 434.7 L1759.2 449.1 L1765 454.8 L1770.7 472 L1776.4 497.8 L1782.2 520.8 L1787.9 532.2 L1796.5 538 L1802.2 549.5 L1808 563.8 L1813.7 575.3 L1822.3 583.9 L1833.8 586.7 L1845.3 586.7 L1856.7 583.9 L1865.3 586.7 L1873.9 595.3 L1882.5 601.1 L1894 603.9 L1905.5 601.1 L1917 595.3 L1925.6 592.5 L1934.2 581 L1939.9 566.7 L1945.6 552.3 L1954.2 540.8 L1962.8 532.2 L1970 526.5" stroke="#1C86EE"/>
<path d="M1475.3 512.2 L1483.9 506.4 L1492.5 495 L1501.1 483.5 L1506.9 466.3 L1512.6 443.3 L1518.3 426.1 L1526.9 411.8 L1532.7 391.7 L1538.4 380.3 L1544.1 368.8 L1552.7 357.3 L1561.3 348.7 L1569.9 334.4 L1575.7 325.8 L1581.4 317.2 L1587.2 308.6 L1594.3 305.7 L1601.5 314.3 L1608.7 320 L1614.4 325.8 L1621.6 340.1 L1627.3 343 L1634.5 334.4 L1641.6 325.8 L1647.4 317.2 L1654.5 311.4 L1660.3 320 L1666 328.6 L1673.2 337.2 L1678.9 351.6 L1684.7 360.2 L1693.3 360.2 L1701.9 354.4 L1710.5 348.7 L1716.2 357.3 L1721.9 368.8 L1727.7 380.3 L1733.4 391.7 L1739.1 403.2 L1747.8 411.8 L1756.4 423.3 L1765 443.3 L1773.6 454.8 L1782.2 463.4 L1790.8 474.9 L1796.5 483.5 L1802.2 495 L1810.8 509.3 L1822.3 517.9 L1833.8 529.4 L1845.3 535.1 L1856.7 538 L1868.2 543.7 L1879.7 546.6 L1894 543.7 L1905.5 549.5 L1917 552.3 L1928.4 546.6 L1937 540.8 L1945.6 529.4 L1954.2 517.9 L1962.8 503.6 L1971.4 483.5" stroke="#EEC900"/>
<path d="M1475.3 480.6 L1481 469.2 L1486.8 457.7 L1492.5 446.2 L1501.1 437.6 L1509.7 431.9 L1518.3 426.1 L1526.9 420.4 L1535.5 426.1 L1544.1 431.9 L1552.7 437.6 L1558.5 431.9 L1564.2 426.1 L1569.9 417.5 L1575.7 411.8 L1584.3 408.9 L1590 403.2 L1595.8 388.9 L1601.5 363 L1607.2 340.1 L1611.5 317.2 L1615.8 305.7 L1621.6 297.1 L1627.3 288.5 L1633 274.1 L1638.8 259.8 L1644.5 256.9 L1650.2 265.5 L1656 268.4 L1663.2 262.7 L1670.3 252.6 L1676.1 254.1 L1681.8 265.5 L1687.5 282.7 L1693.3 302.8 L1699 320 L1704.7 328.6 L1710.5 334.4 L1716.2 351.6 L1721.9 368.8 L1727.7 383.1 L1733.4 388.9 L1739.1 397.5 L1747.8 403.2 L1756.4 411.8 L1765 429 L1773.6 440.5 L1782.2 454.8 L1790.8 463.4 L1799.4 469.2 L1808 474.9 L1813.7 483.5 L1819.4 495 L1825.2 506.4 L1830.9 517.9 L1836.7 535.1 L1842.4 549.5 L1848.1 558.1 L1856.7 563.8 L1862.5 560.9 L1868.2 552.3 L1873.9 543.7 L1882.5 535.1 L1891.1 520.8 L1899.7 509.3 L1908.3 495 L1917 477.8 L1925.6 454.8 L1931.3 437.6" stroke="#CDAD00"/>
</g>
<rect x="1449.5" y="82.2" width="545.7" height="547" fill="none" stroke="#000" stroke-width="2"/>
<line x1="1436.9" y1="138.1" x2="1448.5" y2="138.1" stroke="#333333" stroke-width="4.2"/>
<text transform="translate(1428 148.7) scale(1 1.0)" font-size="28.8" text-anchor="end" fill="#4D4D4D">8</text>
<line x1="1436.9" y1="256" x2="1448.5" y2="256" stroke="#333333" stroke-width="4.2"/>
<text transform="translate(1428 266.6) scale(1 1.0)" font-size="28.8" text-anchor="end" fill="#4D4D4D">6</text>
<line x1="1436.9" y1="374" x2="1448.5" y2="374" stroke="#333333" stroke-width="4.2"/>
<text transform="translate(1428 384.6) scale(1 1.0)" font-size="28.8" text-anchor="end" fill="#4D4D4D">4</text>
<line x1="1436.9" y1="491.9" x2="1448.5" y2="491.9" stroke="#333333" stroke-width="4.2"/>
<text transform="translate(1428 502.5) scale(1 1.0)" font-size="28.8" text-anchor="end" fill="#4D4D4D">2</text>
<line x1="1436.9" y1="609.8" x2="1448.5" y2="609.8" stroke="#333333" stroke-width="4.2"/>
<text transform="translate(1428 620.4) scale(1 1.0)" font-size="28.8" text-anchor="end" fill="#4D4D4D">0</text>
<line x1="1473.4" y1="630.4" x2="1473.4" y2="641.4" stroke="#333333" stroke-width="4.2"/>
<text transform="translate(1473.4 671.6) scale(1 1.0)" font-size="28.8" text-anchor="middle" fill="#4D4D4D">1</text>
<line x1="1513" y1="630.4" x2="1513" y2="641.4" stroke="#333333" stroke-width="4.2"/>
<text transform="translate(1513 671.6) scale(1 1.0)" font-size="28.8" text-anchor="middle" fill="#4D4D4D">30</text>
<line x1="1595" y1="630.4" x2="1595" y2="641.4" stroke="#333333" stroke-width="4.2"/>
<text transform="translate(1595 671.6) scale(1 1.0)" font-size="28.8" text-anchor="middle" fill="#4D4D4D">90</text>
<line x1="1677" y1="630.4" x2="1677" y2="641.4" stroke="#333333" stroke-width="4.2"/>
<text transform="translate(1677 671.6) scale(1 1.0)" font-size="28.8" text-anchor="middle" fill="#4D4D4D">150</text>
<line x1="1759" y1="630.4" x2="1759" y2="641.4" stroke="#333333" stroke-width="4.2"/>
<text transform="translate(1759 671.6) scale(1 1.0)" font-size="28.8" text-anchor="middle" fill="#4D4D4D">210</text>
<line x1="1841" y1="630.4" x2="1841" y2="641.4" stroke="#333333" stroke-width="4.2"/>
<text transform="translate(1841 671.6) scale(1 1.0)" font-size="28.8" text-anchor="middle" fill="#4D4D4D">270</text>
<line x1="1922.9" y1="630.4" x2="1922.9" y2="641.4" stroke="#333333" stroke-width="4.2"/>
<text transform="translate(1922.9 671.6) scale(1 1.0)" font-size="28.8" text-anchor="middle" fill="#4D4D4D">330</text>
<line x1="1972.1" y1="630.4" x2="1972.1" y2="641.4" stroke="#333333" stroke-width="4.2"/>
<text transform="translate(1972.1 671.6) scale(1 1.0)" font-size="28.8" text-anchor="middle" fill="#4D4D4D">366</text>
<text transform="translate(1665.4 708.8) scale(1 1.0)" font-size="28.8" textLength="113.88" lengthAdjust="spacingAndGlyphs">Year Day</text>
<text transform="translate(1395.5 432.9) rotate(-90)" x="-2.4" y="0" font-size="28.8" textLength="159.14" lengthAdjust="spacingAndGlyphs">BEUTI/CUTI</text>
<text transform="translate(1465.5 131.2) scale(1 1.0)" font-size="29.5" font-weight="bold">c</text>
<text transform="translate(1862.2 132.8) scale(1 1.0)" font-size="28.8" textLength="56.06" lengthAdjust="spacingAndGlyphs">Year</text>
<line x1="1864.1" y1="164.7" x2="1888" y2="164.7" stroke="#FF3030" stroke-width="8.6"/>
<text transform="translate(1904.6 175.7) scale(1 1.0)" font-size="28.8" textLength="64.10" lengthAdjust="spacingAndGlyphs">2014</text>
<line x1="1864.1" y1="194.1" x2="1888" y2="194.1" stroke="#EE2C2C" stroke-width="8.6"/>
<text transform="translate(1904.6 205.1) scale(1 1.0)" font-size="28.8" textLength="64.47" lengthAdjust="spacingAndGlyphs">2015</text>
<line x1="1864.1" y1="223.6" x2="1888" y2="223.6" stroke="#CD2626" stroke-width="8.6"/>
<text transform="translate(1904.5 234.6) scale(1 1.0)" font-size="28.8" textLength="64.55" lengthAdjust="spacingAndGlyphs">2016</text>
<line x1="1864.1" y1="253" x2="1888" y2="253" stroke="#1E90FF" stroke-width="8.6"/>
<text transform="translate(1904.5 264) scale(1 1.0)" font-size="28.8" textLength="64.78" lengthAdjust="spacingAndGlyphs">2017</text>
<line x1="1864.1" y1="282.5" x2="1888" y2="282.5" stroke="#1C86EE" stroke-width="8.6"/>
<text transform="translate(1904.5 293.5) scale(1 1.0)" font-size="28.8" textLength="64.55" lengthAdjust="spacingAndGlyphs">2018</text>
<line x1="1864.1" y1="311.9" x2="1888" y2="311.9" stroke="#EEC900" stroke-width="8.6"/>
<text transform="translate(1904.5 322.9) scale(1 1.0)" font-size="28.8" textLength="64.62" lengthAdjust="spacingAndGlyphs">2019</text>
<line x1="1864.1" y1="341.4" x2="1888" y2="341.4" stroke="#CDAD00" stroke-width="8.6"/>
<text transform="translate(1904.6 352.4) scale(1 1.0)" font-size="28.8" textLength="64.40" lengthAdjust="spacingAndGlyphs">2020</text>
<text transform="translate(114 782) scale(1 1.0)" font-size="28.8" textLength="378.49" lengthAdjust="spacingAndGlyphs">Mean nitrate μM (2014−2016)</text>
<text transform="translate(780.7 781.8) scale(1 1.0)" font-size="28.8" textLength="379.40" lengthAdjust="spacingAndGlyphs">Mean nitrate μM (2017−2018)</text>
<text transform="translate(1448.6 766.1) scale(1 1.0)" font-size="28.8" textLength="311.47" lengthAdjust="spacingAndGlyphs">Changes in mean nitrate</text>
<text transform="translate(1448.2 797.2) scale(1 1.0)" font-size="28.8" textLength="358.53" lengthAdjust="spacingAndGlyphs">(2014−2016) − (2017−2018)</text>
<clipPath id="cm0"><rect x="131.2" y="826.6" width="514.3" height="546.9"/></clipPath>
<g clip-path="url(#cm0)">
<path d="M349.5 820 L349.5 826.6 L349.7 837.6 L358.5 849.6 L371.5 853.4 L375.7 860.8 L374.7 866.3 L370.6 873.7 L370.6 883.9 L372.4 888.6 L379.8 896 L384.5 902.5 L390 910.8 L391.9 914.5 L395.6 918.2 L397.4 922.8 L403.9 927.5 L408.6 934 L414.1 937.7 L415.5 941.4 L415 946.9 L416.9 951.6 L423.4 959 L425.2 968.2 L425.7 977.5 L425 985.1 L430 989.3 L441 990.2 L447.7 990.2 L453.6 991.8 L468.7 992.7 L477.1 996 L483.9 1002.8 L487.2 1007.8 L494 1012 L502.4 1014.5 L509.5 1013.7 L515.8 1014.2 L518.5 1021 L521 1028 L526 1032.5 L537.6 1037.2 L542 1038.3 L550.4 1037.8 L554.6 1042 L555.1 1048.3 L557.2 1050.9 L562.9 1059.1 L567.2 1065.7 L569.3 1075 L569.3 1083 L569.6 1089.3 L573.5 1088.8 L575.1 1091.9 L575.6 1096.1 L577 1109.4 L583.6 1117.6 L586.1 1125.9 L589.4 1130.8 L596.8 1136.6 L596 1141.5 L591.9 1143.2 L594.3 1145.6 L594.3 1153 L605.9 1167 L610 1175.3 L610 1185.1 L620.7 1195 L622.3 1214.8 L629.7 1219.7 L632.2 1239.5 L634.7 1242.8 L637.2 1251 L644.6 1259.2 L652 1264 L700 1270 L700 780 L349.5 780 Z" fill="#BEBEBE" stroke="none"/>
<path d="M349.5 820 L349.5 826.6 L349.7 837.6 L358.5 849.6 L371.5 853.4 L375.7 860.8 L374.7 866.3 L370.6 873.7 L370.6 883.9 L372.4 888.6 L379.8 896 L384.5 902.5 L390 910.8 L391.9 914.5 L395.6 918.2 L397.4 922.8 L403.9 927.5 L408.6 934 L414.1 937.7 L415.5 941.4 L415 946.9 L416.9 951.6 L423.4 959 L425.2 968.2 L425.7 977.5 L425 985.1 L430 989.3 L441 990.2 L447.7 990.2 L453.6 991.8 L468.7 992.7 L477.1 996 L483.9 1002.8 L487.2 1007.8 L494 1012 L502.4 1014.5 L509.5 1013.7 L515.8 1014.2 L518.5 1021 L521 1028 L526 1032.5 L537.6 1037.2 L542 1038.3 L550.4 1037.8 L554.6 1042 L555.1 1048.3 L557.2 1050.9 L562.9 1059.1 L567.2 1065.7 L569.3 1075 L569.3 1083 L569.6 1089.3 L573.5 1088.8 L575.1 1091.9 L575.6 1096.1 L577 1109.4 L583.6 1117.6 L586.1 1125.9 L589.4 1130.8 L596.8 1136.6 L596 1141.5 L591.9 1143.2 L594.3 1145.6 L594.3 1153 L605.9 1167 L610 1175.3 L610 1185.1 L620.7 1195 L622.3 1214.8 L629.7 1219.7 L632.2 1239.5 L634.7 1242.8 L637.2 1251 L644.6 1259.2 L652 1264" fill="none" stroke="#000" stroke-width="4" stroke-linejoin="round"/>
<path d="M575.5 1097.7 L652 1089.8" fill="none" stroke="#000" stroke-width="4"/>
<path d="M432.1 1014.7 L435.8 1011.3 L439.4 1013.6 L448.9 1013.6 L453.6 1016.8 L454.1 1019.4 L448.4 1016.8 L441 1016.8 L433.1 1016.2 Z" fill="#000" stroke="#000" stroke-width="3.2" stroke-linejoin="round"/>
<path d="M454.7 1012 L457.8 1010.7 L465.7 1013.6 L472.5 1015.2 L472 1017.8 L462 1020.4 L456.8 1018.3 L454.7 1014.7 Z" fill="#000" stroke="#000" stroke-width="3.2" stroke-linejoin="round"/>
<path d="M473.6 1055.1 L477.8 1059.8 L477.2 1061.9 L472 1061.4 Z" fill="#000" stroke="#000" stroke-width="3.2" stroke-linejoin="round"/>
<path d="M511.6 1045.6 L515 1044.4 L524.2 1049.8 L520.8 1053.2 L516.6 1054 L515 1050.7 L512.4 1048.2 Z" fill="#000" stroke="#000" stroke-width="3.2" stroke-linejoin="round"/>
<path d="M511.2 1070.4 L514.1 1069.2 L524.2 1080.9 L523.4 1083.4 L520 1083.9 L515.8 1078.4 Z" fill="#000" stroke="#000" stroke-width="3.2" stroke-linejoin="round"/>
<path d="M518.6 1283.9 L523.3 1281.8 L527.4 1283.4 L527.7 1286.6 L530.1 1291.3 L530.6 1299.1 L526.5 1304.3 L523.7 1302.3 L520.5 1295 L517.9 1289.4 Z" fill="#000" stroke="#000" stroke-width="3.2" stroke-linejoin="round"/>
<circle cx="419.5" cy="955.7" r="7.6" fill="#FCB29A" stroke="#1a1a1a" stroke-width="0.9"/>
<circle cx="413.2" cy="960.1" r="7.6" fill="#FDBCA4" stroke="#1a1a1a" stroke-width="0.9"/>
<circle cx="400.8" cy="967.5" r="7.6" fill="#FFF0EA" stroke="#1a1a1a" stroke-width="0.9"/>
<circle cx="386.1" cy="976.6" r="7.6" fill="#FFF3EE" stroke="#1a1a1a" stroke-width="0.9"/>
<circle cx="356.4" cy="995" r="7.6" fill="#FFFFFF" stroke="#1a1a1a" stroke-width="0.9"/>
<circle cx="326.9" cy="1013.5" r="7.6" fill="#FFFFFF" stroke="#1a1a1a" stroke-width="0.9"/>
<circle cx="297.4" cy="1032" r="7.6" fill="#FFFFFF" stroke="#1a1a1a" stroke-width="0.9"/>
<circle cx="267.9" cy="1050.6" r="7.6" fill="#FFFFFF" stroke="#1a1a1a" stroke-width="0.9"/>
<circle cx="373.7" cy="1026.8" r="7.6" fill="#FFFCFA" stroke="#1a1a1a" stroke-width="0.9"/>
<circle cx="344.2" cy="1045.4" r="7.6" fill="#FFFFFF" stroke="#1a1a1a" stroke-width="0.9"/>
<circle cx="314.9" cy="1063.7" r="7.6" fill="#FFFFFF" stroke="#1a1a1a" stroke-width="0.9"/>
<circle cx="285.7" cy="1082.3" r="7.6" fill="#FFFFFF" stroke="#1a1a1a" stroke-width="0.9"/>
<circle cx="403" cy="1008.3" r="7.6" fill="#FFF0EA" stroke="#1a1a1a" stroke-width="0.9"/>
<circle cx="418.1" cy="998.9" r="7.6" fill="#FDBCA4" stroke="#1a1a1a" stroke-width="0.9"/>
<circle cx="431.8" cy="990.6" r="7.6" fill="#F27452" stroke="#1a1a1a" stroke-width="0.9"/>
<circle cx="430.6" cy="991.5" r="7.6" fill="#FC8A6A" stroke="#1a1a1a" stroke-width="0.9"/>
<circle cx="390.8" cy="1058.5" r="7.6" fill="#FFFFFF" stroke="#1a1a1a" stroke-width="0.9"/>
<circle cx="361.6" cy="1076.9" r="7.6" fill="#FFFFFF" stroke="#1a1a1a" stroke-width="0.9"/>
<circle cx="332.2" cy="1095.2" r="7.6" fill="#FFFFFF" stroke="#1a1a1a" stroke-width="0.9"/>
<circle cx="303.4" cy="1113.9" r="7.6" fill="#FFFFFF" stroke="#1a1a1a" stroke-width="0.9"/>
<circle cx="274.4" cy="1132.3" r="7.6" fill="#FFFFFF" stroke="#1a1a1a" stroke-width="0.9"/>
<circle cx="420" cy="1039.9" r="7.6" fill="#FFF0EA" stroke="#1a1a1a" stroke-width="0.9"/>
<circle cx="446.8" cy="1023.9" r="7.6" fill="#FDD0C0" stroke="#1a1a1a" stroke-width="0.9"/>
<circle cx="435" cy="1030.9" r="7.6" fill="#FEE6DC" stroke="#1a1a1a" stroke-width="0.9"/>
<circle cx="408.2" cy="1091" r="7.6" fill="#FFFFFF" stroke="#1a1a1a" stroke-width="0.9"/>
<circle cx="379" cy="1109.6" r="7.6" fill="#FFFFFF" stroke="#1a1a1a" stroke-width="0.9"/>
<circle cx="350.3" cy="1128" r="7.6" fill="#FFFFFF" stroke="#1a1a1a" stroke-width="0.9"/>
<circle cx="321.2" cy="1146.6" r="7.6" fill="#FFFFFF" stroke="#1a1a1a" stroke-width="0.9"/>
<circle cx="292.5" cy="1165.1" r="7.6" fill="#FFFFFF" stroke="#1a1a1a" stroke-width="0.9"/>
<circle cx="437.3" cy="1072.5" r="7.6" fill="#FFF5F2" stroke="#1a1a1a" stroke-width="0.9"/>
<circle cx="424.9" cy="1122.9" r="7.6" fill="#FFFFFF" stroke="#1a1a1a" stroke-width="0.9"/>
<circle cx="396" cy="1141.4" r="7.6" fill="#FFFFFF" stroke="#1a1a1a" stroke-width="0.9"/>
<circle cx="367.3" cy="1160" r="7.6" fill="#FFFFFF" stroke="#1a1a1a" stroke-width="0.9"/>
<circle cx="338.8" cy="1178.5" r="7.6" fill="#FFFFFF" stroke="#1a1a1a" stroke-width="0.9"/>
<circle cx="310.1" cy="1197" r="7.6" fill="#FFFFFF" stroke="#1a1a1a" stroke-width="0.9"/>
<circle cx="281.7" cy="1215.3" r="7.6" fill="#FFFFFF" stroke="#1a1a1a" stroke-width="0.9"/>
<circle cx="441.7" cy="1154.7" r="7.6" fill="#FFFFFF" stroke="#1a1a1a" stroke-width="0.9"/>
<circle cx="413" cy="1173.2" r="7.6" fill="#FFFFFF" stroke="#1a1a1a" stroke-width="0.9"/>
<circle cx="384.5" cy="1191.8" r="7.6" fill="#FFFFFF" stroke="#1a1a1a" stroke-width="0.9"/>
<circle cx="355.9" cy="1210.3" r="7.6" fill="#FFFFFF" stroke="#1a1a1a" stroke-width="0.9"/>
<circle cx="327.5" cy="1228.8" r="7.6" fill="#FFFFFF" stroke="#1a1a1a" stroke-width="0.9"/>
<circle cx="299" cy="1247" r="7.6" fill="#FFFFFF" stroke="#1a1a1a" stroke-width="0.9"/>
<circle cx="452" cy="1063.1" r="7.6" fill="#FFF5F2" stroke="#1a1a1a" stroke-width="0.9"/>
<circle cx="466.7" cy="1054" r="7.6" fill="#FEEDE5" stroke="#1a1a1a" stroke-width="0.9"/>
<circle cx="481.4" cy="1044.9" r="7.6" fill="#FFF5F2" stroke="#1a1a1a" stroke-width="0.9"/>
<circle cx="496" cy="1035.7" r="7.6" fill="#FFFFFF" stroke="#1a1a1a" stroke-width="0.9"/>
<circle cx="454" cy="1104.2" r="7.6" fill="#FFFFFF" stroke="#1a1a1a" stroke-width="0.9"/>
<circle cx="470.5" cy="1136" r="7.6" fill="#FFFFFF" stroke="#1a1a1a" stroke-width="0.9"/>
<circle cx="485" cy="1127" r="7.6" fill="#FFFFFF" stroke="#1a1a1a" stroke-width="0.9"/>
<circle cx="499.5" cy="1117.6" r="7.6" fill="#FFFFFF" stroke="#1a1a1a" stroke-width="0.9"/>
<circle cx="514" cy="1108.4" r="7.6" fill="#FFFFFF" stroke="#1a1a1a" stroke-width="0.9"/>
<circle cx="528.6" cy="1099" r="7.6" fill="#FFFCFA" stroke="#1a1a1a" stroke-width="0.9"/>
<circle cx="542.8" cy="1089.7" r="7.6" fill="#FFFCFA" stroke="#1a1a1a" stroke-width="0.9"/>
<circle cx="557.2" cy="1080.6" r="7.6" fill="#FFFFFF" stroke="#1a1a1a" stroke-width="0.9"/>
<circle cx="568.3" cy="1074.6" r="7.6" fill="#FFFFFF" stroke="#1a1a1a" stroke-width="0.9"/>
<circle cx="474.3" cy="1091.2" r="7.6" fill="#FFFFFF" stroke="#1a1a1a" stroke-width="0.9"/>
<circle cx="497.5" cy="1076.4" r="7.6" fill="#FFFFFF" stroke="#1a1a1a" stroke-width="0.9"/>
<circle cx="528.6" cy="1057.6" r="7.6" fill="#FFFFFF" stroke="#1a1a1a" stroke-width="0.9"/>
<circle cx="521" cy="1061.8" r="7.6" fill="#FFFFFF" stroke="#1a1a1a" stroke-width="0.9"/>
<circle cx="548.3" cy="1044.6" r="7.6" fill="#FFFFFF" stroke="#1a1a1a" stroke-width="0.9"/>
<circle cx="541.8" cy="1048.8" r="7.6" fill="#FFFFFF" stroke="#1a1a1a" stroke-width="0.9"/>
<circle cx="560.4" cy="1058.8" r="7.6" fill="#FFFBF8" stroke="#1a1a1a" stroke-width="0.9"/>
<circle cx="533.9" cy="1034.7" r="7.6" fill="#FFF5F3" stroke="#1a1a1a" stroke-width="0.9"/>
<circle cx="510.4" cy="1026.7" r="7.6" fill="#FFFFFF" stroke="#1a1a1a" stroke-width="0.9"/>
<circle cx="518.4" cy="1022.7" r="7.6" fill="#FFF3EE" stroke="#1a1a1a" stroke-width="0.9"/>
<circle cx="501.7" cy="1015.8" r="7.6" fill="#FEE6DC" stroke="#1a1a1a" stroke-width="0.9"/>
<circle cx="451.2" cy="1001.7" r="7.6" fill="#FFF6F3" stroke="#1a1a1a" stroke-width="0.9"/>
<circle cx="461" cy="994.2" r="7.6" fill="#FEF0E8" stroke="#1a1a1a" stroke-width="0.9"/>
<circle cx="481.5" cy="1001.5" r="7.6" fill="#FDDCCB" stroke="#1a1a1a" stroke-width="0.9"/>
<circle cx="477.2" cy="1003.9" r="7.6" fill="#FFFFFF" stroke="#1a1a1a" stroke-width="0.9"/>
<circle cx="473.3" cy="1006.8" r="7.6" fill="#FFF3EE" stroke="#1a1a1a" stroke-width="0.9"/>
</g>
<rect x="131.2" y="826.6" width="514.3" height="546.9" fill="none" stroke="#000" stroke-width="2"/>
<line x1="118.6" y1="961.7" x2="130.2" y2="961.7" stroke="#333333" stroke-width="4.2"/>
<text transform="translate(110.5 972.3) scale(1 1.0)" font-size="28.8" text-anchor="end" fill="#4D4D4D">35.0</text>
<line x1="118.6" y1="1100.2" x2="130.2" y2="1100.2" stroke="#333333" stroke-width="4.2"/>
<text transform="translate(110.5 1110.8) scale(1 1.0)" font-size="28.8" text-anchor="end" fill="#4D4D4D">32.5</text>
<line x1="118.6" y1="1238.6" x2="130.2" y2="1238.6" stroke="#333333" stroke-width="4.2"/>
<text transform="translate(110.5 1249.2) scale(1 1.0)" font-size="28.8" text-anchor="end" fill="#4D4D4D">30.0</text>
<line x1="239.7" y1="1374.7" x2="239.7" y2="1386.3" stroke="#333333" stroke-width="4.2"/>
<text transform="translate(239.7 1416.6) scale(1 1.0)" font-size="28.8" text-anchor="middle" fill="#4D4D4D">−125</text>
<line x1="367.7" y1="1374.7" x2="367.7" y2="1386.3" stroke="#333333" stroke-width="4.2"/>
<text transform="translate(367.7 1416.6) scale(1 1.0)" font-size="28.8" text-anchor="middle" fill="#4D4D4D">−122</text>
<line x1="495.8" y1="1374.7" x2="495.8" y2="1386.3" stroke="#333333" stroke-width="4.2"/>
<text transform="translate(495.8 1416.6) scale(1 1.0)" font-size="28.8" text-anchor="middle" fill="#4D4D4D">−119</text>
<text transform="translate(324.6 1454.6) scale(1 1.0)" font-size="28.8" textLength="127.04" lengthAdjust="spacingAndGlyphs">Longitude</text>
<text transform="translate(38.6 1149.8) rotate(-90)" x="-2.4" y="0" font-size="28.8" textLength="102.33" lengthAdjust="spacingAndGlyphs">Latitude</text>
<text transform="translate(147.9 862.2) scale(1 1.0)" font-size="29.5" font-weight="bold">d</text>
<clipPath id="cm1"><rect x="798.4" y="826.6" width="514.3" height="546.9"/></clipPath>
<g clip-path="url(#cm1)">
<path d="M1016.7 820 L1016.7 826.6 L1016.9 837.6 L1025.7 849.6 L1038.7 853.4 L1042.9 860.8 L1041.9 866.3 L1037.8 873.7 L1037.8 883.9 L1039.6 888.6 L1047 896 L1051.7 902.5 L1057.2 910.8 L1059.1 914.5 L1062.8 918.2 L1064.6 922.8 L1071.1 927.5 L1075.8 934 L1081.3 937.7 L1082.7 941.4 L1082.2 946.9 L1084.1 951.6 L1090.6 959 L1092.4 968.2 L1092.9 977.5 L1092.2 985.1 L1097.2 989.3 L1108.2 990.2 L1114.9 990.2 L1120.8 991.8 L1135.9 992.7 L1144.3 996 L1151.1 1002.8 L1154.4 1007.8 L1161.2 1012 L1169.6 1014.5 L1176.7 1013.7 L1183 1014.2 L1185.7 1021 L1188.2 1028 L1193.2 1032.5 L1204.8 1037.2 L1209.2 1038.3 L1217.6 1037.8 L1221.8 1042 L1222.3 1048.3 L1224.4 1050.9 L1230.1 1059.1 L1234.4 1065.7 L1236.5 1075 L1236.5 1083 L1236.8 1089.3 L1240.7 1088.8 L1242.3 1091.9 L1242.8 1096.1 L1244.2 1109.4 L1250.8 1117.6 L1253.3 1125.9 L1256.6 1130.8 L1264 1136.6 L1263.2 1141.5 L1259.1 1143.2 L1261.5 1145.6 L1261.5 1153 L1273.1 1167 L1277.2 1175.3 L1277.2 1185.1 L1287.9 1195 L1289.5 1214.8 L1296.9 1219.7 L1299.4 1239.5 L1301.9 1242.8 L1304.4 1251 L1311.8 1259.2 L1319.2 1264 L1367.2 1270 L1367.2 780 L1016.7 780 Z" fill="#BEBEBE" stroke="none"/>
<path d="M1016.7 820 L1016.7 826.6 L1016.9 837.6 L1025.7 849.6 L1038.7 853.4 L1042.9 860.8 L1041.9 866.3 L1037.8 873.7 L1037.8 883.9 L1039.6 888.6 L1047 896 L1051.7 902.5 L1057.2 910.8 L1059.1 914.5 L1062.8 918.2 L1064.6 922.8 L1071.1 927.5 L1075.8 934 L1081.3 937.7 L1082.7 941.4 L1082.2 946.9 L1084.1 951.6 L1090.6 959 L1092.4 968.2 L1092.9 977.5 L1092.2 985.1 L1097.2 989.3 L1108.2 990.2 L1114.9 990.2 L1120.8 991.8 L1135.9 992.7 L1144.3 996 L1151.1 1002.8 L1154.4 1007.8 L1161.2 1012 L1169.6 1014.5 L1176.7 1013.7 L1183 1014.2 L1185.7 1021 L1188.2 1028 L1193.2 1032.5 L1204.8 1037.2 L1209.2 1038.3 L1217.6 1037.8 L1221.8 1042 L1222.3 1048.3 L1224.4 1050.9 L1230.1 1059.1 L1234.4 1065.7 L1236.5 1075 L1236.5 1083 L1236.8 1089.3 L1240.7 1088.8 L1242.3 1091.9 L1242.8 1096.1 L1244.2 1109.4 L1250.8 1117.6 L1253.3 1125.9 L1256.6 1130.8 L1264 1136.6 L1263.2 1141.5 L1259.1 1143.2 L1261.5 1145.6 L1261.5 1153 L1273.1 1167 L1277.2 1175.3 L1277.2 1185.1 L1287.9 1195 L1289.5 1214.8 L1296.9 1219.7 L1299.4 1239.5 L1301.9 1242.8 L1304.4 1251 L1311.8 1259.2 L1319.2 1264" fill="none" stroke="#000" stroke-width="4" stroke-linejoin="round"/>
<path d="M1242.7 1097.7 L1319.2 1089.8" fill="none" stroke="#000" stroke-width="4"/>
<path d="M1099.3 1014.7 L1103 1011.3 L1106.6 1013.6 L1116.1 1013.6 L1120.8 1016.8 L1121.3 1019.4 L1115.6 1016.8 L1108.2 1016.8 L1100.3 1016.2 Z" fill="#000" stroke="#000" stroke-width="3.2" stroke-linejoin="round"/>
<path d="M1121.9 1012 L1125 1010.7 L1132.9 1013.6 L1139.7 1015.2 L1139.2 1017.8 L1129.2 1020.4 L1124 1018.3 L1121.9 1014.7 Z" fill="#000" stroke="#000" stroke-width="3.2" stroke-linejoin="round"/>
<path d="M1140.8 1055.1 L1145 1059.8 L1144.4 1061.9 L1139.2 1061.4 Z" fill="#000" stroke="#000" stroke-width="3.2" stroke-linejoin="round"/>
<path d="M1178.8 1045.6 L1182.2 1044.4 L1191.4 1049.8 L1188 1053.2 L1183.8 1054 L1182.2 1050.7 L1179.6 1048.2 Z" fill="#000" stroke="#000" stroke-width="3.2" stroke-linejoin="round"/>
<path d="M1178.4 1070.4 L1181.3 1069.2 L1191.4 1080.9 L1190.6 1083.4 L1187.2 1083.9 L1183 1078.4 Z" fill="#000" stroke="#000" stroke-width="3.2" stroke-linejoin="round"/>
<path d="M1185.8 1283.9 L1190.5 1281.8 L1194.6 1283.4 L1194.9 1286.6 L1197.3 1291.3 L1197.8 1299.1 L1193.7 1304.3 L1190.9 1302.3 L1187.7 1295 L1185.1 1289.4 Z" fill="#000" stroke="#000" stroke-width="3.2" stroke-linejoin="round"/>
<circle cx="1086.7" cy="955.7" r="7.6" fill="#FF1A0A" stroke="#1a1a1a" stroke-width="0.9"/>
<circle cx="1080.4" cy="960.1" r="7.6" fill="#FF6644" stroke="#1a1a1a" stroke-width="0.9"/>
<circle cx="1068" cy="967.5" r="7.6" fill="#FDAA90" stroke="#1a1a1a" stroke-width="0.9"/>
<circle cx="1053.3" cy="976.6" r="7.6" fill="#FEE0D4" stroke="#1a1a1a" stroke-width="0.9"/>
<circle cx="1023.6" cy="995" r="7.6" fill="#FEE8DE" stroke="#1a1a1a" stroke-width="0.9"/>
<circle cx="994.1" cy="1013.5" r="7.6" fill="#FFF0EA" stroke="#1a1a1a" stroke-width="0.9"/>
<circle cx="964.6" cy="1032" r="7.6" fill="#FFFFFF" stroke="#1a1a1a" stroke-width="0.9"/>
<circle cx="935.1" cy="1050.6" r="7.6" fill="#FFFFFF" stroke="#1a1a1a" stroke-width="0.9"/>
<circle cx="1040.9" cy="1026.8" r="7.6" fill="#FFFFFF" stroke="#1a1a1a" stroke-width="0.9"/>
<circle cx="1011.4" cy="1045.4" r="7.6" fill="#FFFFFF" stroke="#1a1a1a" stroke-width="0.9"/>
<circle cx="982.1" cy="1063.7" r="7.6" fill="#FFFFFF" stroke="#1a1a1a" stroke-width="0.9"/>
<circle cx="952.9" cy="1082.3" r="7.6" fill="#FFFFFF" stroke="#1a1a1a" stroke-width="0.9"/>
<circle cx="1070.2" cy="1008.3" r="7.6" fill="#FDC4B0" stroke="#1a1a1a" stroke-width="0.9"/>
<circle cx="1085.3" cy="998.9" r="7.6" fill="#FDAA90" stroke="#1a1a1a" stroke-width="0.9"/>
<circle cx="1099" cy="990.6" r="7.6" fill="#E8452A" stroke="#1a1a1a" stroke-width="0.9"/>
<circle cx="1097.8" cy="991.5" r="7.6" fill="#FF5535" stroke="#1a1a1a" stroke-width="0.9"/>
<circle cx="1058" cy="1058.5" r="7.6" fill="#FFFFFF" stroke="#1a1a1a" stroke-width="0.9"/>
<circle cx="1028.8" cy="1076.9" r="7.6" fill="#FFFFFF" stroke="#1a1a1a" stroke-width="0.9"/>
<circle cx="999.4" cy="1095.2" r="7.6" fill="#FFFFFF" stroke="#1a1a1a" stroke-width="0.9"/>
<circle cx="970.6" cy="1113.9" r="7.6" fill="#FFFFFF" stroke="#1a1a1a" stroke-width="0.9"/>
<circle cx="941.6" cy="1132.3" r="7.6" fill="#FFFFFF" stroke="#1a1a1a" stroke-width="0.9"/>
<circle cx="1087.2" cy="1039.9" r="7.6" fill="#FDD8CA" stroke="#1a1a1a" stroke-width="0.9"/>
<circle cx="1114" cy="1023.9" r="7.6" fill="#FDBBA3" stroke="#1a1a1a" stroke-width="0.9"/>
<circle cx="1102.2" cy="1030.9" r="7.6" fill="#FDD3C4" stroke="#1a1a1a" stroke-width="0.9"/>
<circle cx="1075.4" cy="1091" r="7.6" fill="#FFFFFF" stroke="#1a1a1a" stroke-width="0.9"/>
<circle cx="1046.2" cy="1109.6" r="7.6" fill="#FFFFFF" stroke="#1a1a1a" stroke-width="0.9"/>
<circle cx="1017.5" cy="1128" r="7.6" fill="#FFFFFF" stroke="#1a1a1a" stroke-width="0.9"/>
<circle cx="988.4" cy="1146.6" r="7.6" fill="#FFFFFF" stroke="#1a1a1a" stroke-width="0.9"/>
<circle cx="959.7" cy="1165.1" r="7.6" fill="#FFFFFF" stroke="#1a1a1a" stroke-width="0.9"/>
<circle cx="1104.5" cy="1072.5" r="7.6" fill="#FEE6DC" stroke="#1a1a1a" stroke-width="0.9"/>
<circle cx="1092.1" cy="1122.9" r="7.6" fill="#FFFFFF" stroke="#1a1a1a" stroke-width="0.9"/>
<circle cx="1063.2" cy="1141.4" r="7.6" fill="#FFFFFF" stroke="#1a1a1a" stroke-width="0.9"/>
<circle cx="1034.5" cy="1160" r="7.6" fill="#FFFFFF" stroke="#1a1a1a" stroke-width="0.9"/>
<circle cx="1006" cy="1178.5" r="7.6" fill="#FFFFFF" stroke="#1a1a1a" stroke-width="0.9"/>
<circle cx="977.3" cy="1197" r="7.6" fill="#FFFFFF" stroke="#1a1a1a" stroke-width="0.9"/>
<circle cx="948.9" cy="1215.3" r="7.6" fill="#FFFFFF" stroke="#1a1a1a" stroke-width="0.9"/>
<circle cx="1108.9" cy="1154.7" r="7.6" fill="#FFFFFF" stroke="#1a1a1a" stroke-width="0.9"/>
<circle cx="1080.2" cy="1173.2" r="7.6" fill="#FFFFFF" stroke="#1a1a1a" stroke-width="0.9"/>
<circle cx="1051.7" cy="1191.8" r="7.6" fill="#FFFFFF" stroke="#1a1a1a" stroke-width="0.9"/>
<circle cx="1023.1" cy="1210.3" r="7.6" fill="#FFFFFF" stroke="#1a1a1a" stroke-width="0.9"/>
<circle cx="994.7" cy="1228.8" r="7.6" fill="#FFFFFF" stroke="#1a1a1a" stroke-width="0.9"/>
<circle cx="966.2" cy="1247" r="7.6" fill="#FFFFFF" stroke="#1a1a1a" stroke-width="0.9"/>
<circle cx="1119.2" cy="1063.1" r="7.6" fill="#FDCFBF" stroke="#1a1a1a" stroke-width="0.9"/>
<circle cx="1133.9" cy="1054" r="7.6" fill="#FDB49A" stroke="#1a1a1a" stroke-width="0.9"/>
<circle cx="1148.6" cy="1044.9" r="7.6" fill="#FEE6DC" stroke="#1a1a1a" stroke-width="0.9"/>
<circle cx="1163.2" cy="1035.7" r="7.6" fill="#FEE6DC" stroke="#1a1a1a" stroke-width="0.9"/>
<circle cx="1121.2" cy="1104.2" r="7.6" fill="#FFF0EA" stroke="#1a1a1a" stroke-width="0.9"/>
<circle cx="1137.7" cy="1136" r="7.6" fill="#FFFFFF" stroke="#1a1a1a" stroke-width="0.9"/>
<circle cx="1152.2" cy="1127" r="7.6" fill="#FFF3EE" stroke="#1a1a1a" stroke-width="0.9"/>
<circle cx="1166.7" cy="1117.6" r="7.6" fill="#FFF3EE" stroke="#1a1a1a" stroke-width="0.9"/>
<circle cx="1181.2" cy="1108.4" r="7.6" fill="#FFFFFF" stroke="#1a1a1a" stroke-width="0.9"/>
<circle cx="1195.8" cy="1099" r="7.6" fill="#FFFFFF" stroke="#1a1a1a" stroke-width="0.9"/>
<circle cx="1210" cy="1089.7" r="7.6" fill="#FFFFFF" stroke="#1a1a1a" stroke-width="0.9"/>
<circle cx="1224.4" cy="1080.6" r="7.6" fill="#FFFFFF" stroke="#1a1a1a" stroke-width="0.9"/>
<circle cx="1235.5" cy="1074.6" r="7.6" fill="#FFFFFF" stroke="#1a1a1a" stroke-width="0.9"/>
<circle cx="1141.5" cy="1091.2" r="7.6" fill="#FDD8CA" stroke="#1a1a1a" stroke-width="0.9"/>
<circle cx="1164.7" cy="1076.4" r="7.6" fill="#FFF0EA" stroke="#1a1a1a" stroke-width="0.9"/>
<circle cx="1195.8" cy="1057.6" r="7.6" fill="#FFFFFF" stroke="#1a1a1a" stroke-width="0.9"/>
<circle cx="1188.2" cy="1061.8" r="7.6" fill="#FFFFFF" stroke="#1a1a1a" stroke-width="0.9"/>
<circle cx="1215.5" cy="1044.6" r="7.6" fill="#FFFFFF" stroke="#1a1a1a" stroke-width="0.9"/>
<circle cx="1209" cy="1048.8" r="7.6" fill="#FFFFFF" stroke="#1a1a1a" stroke-width="0.9"/>
<circle cx="1227.6" cy="1058.8" r="7.6" fill="#FFFAF8" stroke="#1a1a1a" stroke-width="0.9"/>
<circle cx="1201.1" cy="1034.7" r="7.6" fill="#FEE0D4" stroke="#1a1a1a" stroke-width="0.9"/>
<circle cx="1177.6" cy="1026.7" r="7.6" fill="#FFFFFF" stroke="#1a1a1a" stroke-width="0.9"/>
<circle cx="1185.6" cy="1022.7" r="7.6" fill="#FEDDD0" stroke="#1a1a1a" stroke-width="0.9"/>
<circle cx="1168.9" cy="1015.8" r="7.6" fill="#FEE0D4" stroke="#1a1a1a" stroke-width="0.9"/>
<circle cx="1118.4" cy="1001.7" r="7.6" fill="#FFF3EE" stroke="#1a1a1a" stroke-width="0.9"/>
<circle cx="1128.2" cy="994.2" r="7.6" fill="#FF4422" stroke="#1a1a1a" stroke-width="0.9"/>
<circle cx="1148.7" cy="1001.5" r="7.6" fill="#FDB49A" stroke="#1a1a1a" stroke-width="0.9"/>
<circle cx="1144.4" cy="1003.9" r="7.6" fill="#FFFFFF" stroke="#1a1a1a" stroke-width="0.9"/>
<circle cx="1140.5" cy="1006.8" r="7.6" fill="#FEE0D4" stroke="#1a1a1a" stroke-width="0.9"/>
</g>
<rect x="798.4" y="826.6" width="514.3" height="546.9" fill="none" stroke="#000" stroke-width="2"/>
<line x1="906.9" y1="1374.7" x2="906.9" y2="1386.3" stroke="#333333" stroke-width="4.2"/>
<text transform="translate(906.9 1416.6) scale(1 1.0)" font-size="28.8" text-anchor="middle" fill="#4D4D4D">−125</text>
<line x1="1034.9" y1="1374.7" x2="1034.9" y2="1386.3" stroke="#333333" stroke-width="4.2"/>
<text transform="translate(1034.9 1416.6) scale(1 1.0)" font-size="28.8" text-anchor="middle" fill="#4D4D4D">−122</text>
<line x1="1163" y1="1374.7" x2="1163" y2="1386.3" stroke="#333333" stroke-width="4.2"/>
<text transform="translate(1163 1416.6) scale(1 1.0)" font-size="28.8" text-anchor="middle" fill="#4D4D4D">−119</text>
<text transform="translate(991.8 1454.6) scale(1 1.0)" font-size="28.8" textLength="127.04" lengthAdjust="spacingAndGlyphs">Longitude</text>
<text transform="translate(815.1 862.2) scale(1 1.0)" font-size="29.5" font-weight="bold">e</text>
<clipPath id="cm2"><rect x="1465.8" y="826.6" width="514.3" height="546.9"/></clipPath>
<g clip-path="url(#cm2)">
<path d="M1684.1 820 L1684.1 826.6 L1684.3 837.6 L1693.1 849.6 L1706.1 853.4 L1710.3 860.8 L1709.3 866.3 L1705.2 873.7 L1705.2 883.9 L1707 888.6 L1714.4 896 L1719.1 902.5 L1724.6 910.8 L1726.5 914.5 L1730.2 918.2 L1732 922.8 L1738.5 927.5 L1743.2 934 L1748.7 937.7 L1750.1 941.4 L1749.6 946.9 L1751.5 951.6 L1758 959 L1759.8 968.2 L1760.3 977.5 L1759.6 985.1 L1764.6 989.3 L1775.6 990.2 L1782.3 990.2 L1788.2 991.8 L1803.3 992.7 L1811.7 996 L1818.5 1002.8 L1821.8 1007.8 L1828.6 1012 L1837 1014.5 L1844.1 1013.7 L1850.4 1014.2 L1853.1 1021 L1855.6 1028 L1860.6 1032.5 L1872.2 1037.2 L1876.6 1038.3 L1885 1037.8 L1889.2 1042 L1889.7 1048.3 L1891.8 1050.9 L1897.5 1059.1 L1901.8 1065.7 L1903.9 1075 L1903.9 1083 L1904.2 1089.3 L1908.1 1088.8 L1909.7 1091.9 L1910.2 1096.1 L1911.6 1109.4 L1918.2 1117.6 L1920.7 1125.9 L1924 1130.8 L1931.4 1136.6 L1930.6 1141.5 L1926.5 1143.2 L1928.9 1145.6 L1928.9 1153 L1940.5 1167 L1944.6 1175.3 L1944.6 1185.1 L1955.3 1195 L1956.9 1214.8 L1964.3 1219.7 L1966.8 1239.5 L1969.3 1242.8 L1971.8 1251 L1979.2 1259.2 L1986.6 1264 L2034.6 1270 L2034.6 780 L1684.1 780 Z" fill="#BEBEBE" stroke="none"/>
<path d="M1684.1 820 L1684.1 826.6 L1684.3 837.6 L1693.1 849.6 L1706.1 853.4 L1710.3 860.8 L1709.3 866.3 L1705.2 873.7 L1705.2 883.9 L1707 888.6 L1714.4 896 L1719.1 902.5 L1724.6 910.8 L1726.5 914.5 L1730.2 918.2 L1732 922.8 L1738.5 927.5 L1743.2 934 L1748.7 937.7 L1750.1 941.4 L1749.6 946.9 L1751.5 951.6 L1758 959 L1759.8 968.2 L1760.3 977.5 L1759.6 985.1 L1764.6 989.3 L1775.6 990.2 L1782.3 990.2 L1788.2 991.8 L1803.3 992.7 L1811.7 996 L1818.5 1002.8 L1821.8 1007.8 L1828.6 1012 L1837 1014.5 L1844.1 1013.7 L1850.4 1014.2 L1853.1 1021 L1855.6 1028 L1860.6 1032.5 L1872.2 1037.2 L1876.6 1038.3 L1885 1037.8 L1889.2 1042 L1889.7 1048.3 L1891.8 1050.9 L1897.5 1059.1 L1901.8 1065.7 L1903.9 1075 L1903.9 1083 L1904.2 1089.3 L1908.1 1088.8 L1909.7 1091.9 L1910.2 1096.1 L1911.6 1109.4 L1918.2 1117.6 L1920.7 1125.9 L1924 1130.8 L1931.4 1136.6 L1930.6 1141.5 L1926.5 1143.2 L1928.9 1145.6 L1928.9 1153 L1940.5 1167 L1944.6 1175.3 L1944.6 1185.1 L1955.3 1195 L1956.9 1214.8 L1964.3 1219.7 L1966.8 1239.5 L1969.3 1242.8 L1971.8 1251 L1979.2 1259.2 L1986.6 1264" fill="none" stroke="#000" stroke-width="4" stroke-linejoin="round"/>
<path d="M1910.1 1097.7 L1986.6 1089.8" fill="none" stroke="#000" stroke-width="4"/>
<path d="M1766.7 1014.7 L1770.4 1011.3 L1774 1013.6 L1783.5 1013.6 L1788.2 1016.8 L1788.7 1019.4 L1783 1016.8 L1775.6 1016.8 L1767.7 1016.2 Z" fill="#000" stroke="#000" stroke-width="3.2" stroke-linejoin="round"/>
<path d="M1789.3 1012 L1792.4 1010.7 L1800.3 1013.6 L1807.1 1015.2 L1806.6 1017.8 L1796.6 1020.4 L1791.4 1018.3 L1789.3 1014.7 Z" fill="#000" stroke="#000" stroke-width="3.2" stroke-linejoin="round"/>
<path d="M1808.2 1055.1 L1812.4 1059.8 L1811.8 1061.9 L1806.6 1061.4 Z" fill="#000" stroke="#000" stroke-width="3.2" stroke-linejoin="round"/>
<path d="M1846.2 1045.6 L1849.6 1044.4 L1858.8 1049.8 L1855.4 1053.2 L1851.2 1054 L1849.6 1050.7 L1847 1048.2 Z" fill="#000" stroke="#000" stroke-width="3.2" stroke-linejoin="round"/>
<path d="M1845.8 1070.4 L1848.7 1069.2 L1858.8 1080.9 L1858 1083.4 L1854.6 1083.9 L1850.4 1078.4 Z" fill="#000" stroke="#000" stroke-width="3.2" stroke-linejoin="round"/>
<path d="M1853.2 1283.9 L1857.9 1281.8 L1862 1283.4 L1862.3 1286.6 L1864.7 1291.3 L1865.2 1299.1 L1861.1 1304.3 L1858.3 1302.3 L1855.1 1295 L1852.5 1289.4 Z" fill="#000" stroke="#000" stroke-width="3.2" stroke-linejoin="round"/>
<circle cx="1754.1" cy="955.7" r="7.6" fill="#8060FF" stroke="#1a1a1a" stroke-width="0.9"/>
<circle cx="1747.8" cy="960.1" r="7.6" fill="#A582FF" stroke="#1a1a1a" stroke-width="0.9"/>
<circle cx="1735.4" cy="967.5" r="7.6" fill="#BA9EFF" stroke="#1a1a1a" stroke-width="0.9"/>
<circle cx="1720.7" cy="976.6" r="7.6" fill="#EEE4FF" stroke="#1a1a1a" stroke-width="0.9"/>
<circle cx="1691" cy="995" r="7.6" fill="#ECE2FF" stroke="#1a1a1a" stroke-width="0.9"/>
<circle cx="1661.5" cy="1013.5" r="7.6" fill="#F4EEFF" stroke="#1a1a1a" stroke-width="0.9"/>
<circle cx="1632" cy="1032" r="7.6" fill="#FFFFFF" stroke="#1a1a1a" stroke-width="0.9"/>
<circle cx="1602.5" cy="1050.6" r="7.6" fill="#FFFFFF" stroke="#1a1a1a" stroke-width="0.9"/>
<circle cx="1708.3" cy="1026.8" r="7.6" fill="#FFFFFF" stroke="#1a1a1a" stroke-width="0.9"/>
<circle cx="1678.8" cy="1045.4" r="7.6" fill="#FFFFFF" stroke="#1a1a1a" stroke-width="0.9"/>
<circle cx="1649.5" cy="1063.7" r="7.6" fill="#FFFFFF" stroke="#1a1a1a" stroke-width="0.9"/>
<circle cx="1620.3" cy="1082.3" r="7.6" fill="#FFFFFF" stroke="#1a1a1a" stroke-width="0.9"/>
<circle cx="1737.6" cy="1008.3" r="7.6" fill="#D6C6FF" stroke="#1a1a1a" stroke-width="0.9"/>
<circle cx="1752.7" cy="998.9" r="7.6" fill="#FFFFFF" stroke="#1a1a1a" stroke-width="0.9"/>
<circle cx="1766.4" cy="990.6" r="7.6" fill="#B496FF" stroke="#1a1a1a" stroke-width="0.9"/>
<circle cx="1765.2" cy="991.5" r="7.6" fill="#CDB8FF" stroke="#1a1a1a" stroke-width="0.9"/>
<circle cx="1725.4" cy="1058.5" r="7.6" fill="#FFFFFF" stroke="#1a1a1a" stroke-width="0.9"/>
<circle cx="1696.2" cy="1076.9" r="7.6" fill="#FFFFFF" stroke="#1a1a1a" stroke-width="0.9"/>
<circle cx="1666.8" cy="1095.2" r="7.6" fill="#FFFFFF" stroke="#1a1a1a" stroke-width="0.9"/>
<circle cx="1638" cy="1113.9" r="7.6" fill="#FFFFFF" stroke="#1a1a1a" stroke-width="0.9"/>
<circle cx="1609" cy="1132.3" r="7.6" fill="#FFFFFF" stroke="#1a1a1a" stroke-width="0.9"/>
<circle cx="1754.6" cy="1039.9" r="7.6" fill="#DCCCFF" stroke="#1a1a1a" stroke-width="0.9"/>
<circle cx="1781.4" cy="1023.9" r="7.6" fill="#EFE6FF" stroke="#1a1a1a" stroke-width="0.9"/>
<circle cx="1769.6" cy="1030.9" r="7.6" fill="#E4D8FF" stroke="#1a1a1a" stroke-width="0.9"/>
<circle cx="1742.8" cy="1091" r="7.6" fill="#FFFFFF" stroke="#1a1a1a" stroke-width="0.9"/>
<circle cx="1713.6" cy="1109.6" r="7.6" fill="#FFFFFF" stroke="#1a1a1a" stroke-width="0.9"/>
<circle cx="1684.9" cy="1128" r="7.6" fill="#FFFFFF" stroke="#1a1a1a" stroke-width="0.9"/>
<circle cx="1655.8" cy="1146.6" r="7.6" fill="#FFFFFF" stroke="#1a1a1a" stroke-width="0.9"/>
<circle cx="1627.1" cy="1165.1" r="7.6" fill="#FFFFFF" stroke="#1a1a1a" stroke-width="0.9"/>
<circle cx="1771.9" cy="1072.5" r="7.6" fill="#F0E8FF" stroke="#1a1a1a" stroke-width="0.9"/>
<circle cx="1759.5" cy="1122.9" r="7.6" fill="#FFFFFF" stroke="#1a1a1a" stroke-width="0.9"/>
<circle cx="1730.6" cy="1141.4" r="7.6" fill="#FFFFFF" stroke="#1a1a1a" stroke-width="0.9"/>
<circle cx="1701.9" cy="1160" r="7.6" fill="#FFFFFF" stroke="#1a1a1a" stroke-width="0.9"/>
<circle cx="1673.4" cy="1178.5" r="7.6" fill="#FFFFFF" stroke="#1a1a1a" stroke-width="0.9"/>
<circle cx="1644.7" cy="1197" r="7.6" fill="#FFFFFF" stroke="#1a1a1a" stroke-width="0.9"/>
<circle cx="1616.3" cy="1215.3" r="7.6" fill="#FFFFFF" stroke="#1a1a1a" stroke-width="0.9"/>
<circle cx="1776.3" cy="1154.7" r="7.6" fill="#FFFFFF" stroke="#1a1a1a" stroke-width="0.9"/>
<circle cx="1747.6" cy="1173.2" r="7.6" fill="#FFFFFF" stroke="#1a1a1a" stroke-width="0.9"/>
<circle cx="1719.1" cy="1191.8" r="7.6" fill="#FFFFFF" stroke="#1a1a1a" stroke-width="0.9"/>
<circle cx="1690.5" cy="1210.3" r="7.6" fill="#FFFFFF" stroke="#1a1a1a" stroke-width="0.9"/>
<circle cx="1662.1" cy="1228.8" r="7.6" fill="#FFFFFF" stroke="#1a1a1a" stroke-width="0.9"/>
<circle cx="1633.6" cy="1247" r="7.6" fill="#FFFFFF" stroke="#1a1a1a" stroke-width="0.9"/>
<circle cx="1786.6" cy="1063.1" r="7.6" fill="#D4C2FF" stroke="#1a1a1a" stroke-width="0.9"/>
<circle cx="1801.3" cy="1054" r="7.6" fill="#C4AAFF" stroke="#1a1a1a" stroke-width="0.9"/>
<circle cx="1816" cy="1044.9" r="7.6" fill="#EDE4FF" stroke="#1a1a1a" stroke-width="0.9"/>
<circle cx="1830.6" cy="1035.7" r="7.6" fill="#E8DCFF" stroke="#1a1a1a" stroke-width="0.9"/>
<circle cx="1788.6" cy="1104.2" r="7.6" fill="#F3EEFF" stroke="#1a1a1a" stroke-width="0.9"/>
<circle cx="1805.1" cy="1136" r="7.6" fill="#FFFFFF" stroke="#1a1a1a" stroke-width="0.9"/>
<circle cx="1819.6" cy="1127" r="7.6" fill="#F5F2FF" stroke="#1a1a1a" stroke-width="0.9"/>
<circle cx="1834.1" cy="1117.6" r="7.6" fill="#F8F6FF" stroke="#1a1a1a" stroke-width="0.9"/>
<circle cx="1848.6" cy="1108.4" r="7.6" fill="#FFFFFF" stroke="#1a1a1a" stroke-width="0.9"/>
<circle cx="1863.2" cy="1099" r="7.6" fill="#FFFFFF" stroke="#1a1a1a" stroke-width="0.9"/>
<circle cx="1877.4" cy="1089.7" r="7.6" fill="#FFFFFF" stroke="#1a1a1a" stroke-width="0.9"/>
<circle cx="1891.8" cy="1080.6" r="7.6" fill="#FFFFFF" stroke="#1a1a1a" stroke-width="0.9"/>
<circle cx="1902.9" cy="1074.6" r="7.6" fill="#FFFFFF" stroke="#1a1a1a" stroke-width="0.9"/>
<circle cx="1808.9" cy="1091.2" r="7.6" fill="#DCCCFF" stroke="#1a1a1a" stroke-width="0.9"/>
<circle cx="1832.1" cy="1076.4" r="7.6" fill="#F3EDFF" stroke="#1a1a1a" stroke-width="0.9"/>
<circle cx="1863.2" cy="1057.6" r="7.6" fill="#FFFFFF" stroke="#1a1a1a" stroke-width="0.9"/>
<circle cx="1855.6" cy="1061.8" r="7.6" fill="#FFFFFF" stroke="#1a1a1a" stroke-width="0.9"/>
<circle cx="1882.9" cy="1044.6" r="7.6" fill="#FFFFFF" stroke="#1a1a1a" stroke-width="0.9"/>
<circle cx="1876.4" cy="1048.8" r="7.6" fill="#FFFFFF" stroke="#1a1a1a" stroke-width="0.9"/>
<circle cx="1895" cy="1058.8" r="7.6" fill="#FFFFFF" stroke="#1a1a1a" stroke-width="0.9"/>
<circle cx="1868.5" cy="1034.7" r="7.6" fill="#E8DCFF" stroke="#1a1a1a" stroke-width="0.9"/>
<circle cx="1845" cy="1026.7" r="7.6" fill="#FFFFFF" stroke="#1a1a1a" stroke-width="0.9"/>
<circle cx="1853" cy="1022.7" r="7.6" fill="#E8DCFF" stroke="#1a1a1a" stroke-width="0.9"/>
<circle cx="1836.3" cy="1015.8" r="7.6" fill="#F3EDFF" stroke="#1a1a1a" stroke-width="0.9"/>
<circle cx="1785.8" cy="1001.7" r="7.6" fill="#F8F4FF" stroke="#1a1a1a" stroke-width="0.9"/>
<circle cx="1795.6" cy="994.2" r="7.6" fill="#0000FF" stroke="#1a1a1a" stroke-width="0.9"/>
<circle cx="1816.1" cy="1001.5" r="7.6" fill="#B496FF" stroke="#1a1a1a" stroke-width="0.9"/>
<circle cx="1811.8" cy="1003.9" r="7.6" fill="#D4C2FF" stroke="#1a1a1a" stroke-width="0.9"/>
<circle cx="1807.9" cy="1006.8" r="7.6" fill="#EEE2FF" stroke="#1a1a1a" stroke-width="0.9"/>
</g>
<rect x="1465.8" y="826.6" width="514.3" height="546.9" fill="none" stroke="#000" stroke-width="2"/>
<line x1="1574.3" y1="1374.7" x2="1574.3" y2="1386.3" stroke="#333333" stroke-width="4.2"/>
<text transform="translate(1574.3 1416.6) scale(1 1.0)" font-size="28.8" text-anchor="middle" fill="#4D4D4D">−125</text>
<line x1="1702.3" y1="1374.7" x2="1702.3" y2="1386.3" stroke="#333333" stroke-width="4.2"/>
<text transform="translate(1702.3 1416.6) scale(1 1.0)" font-size="28.8" text-anchor="middle" fill="#4D4D4D">−122</text>
<line x1="1830.4" y1="1374.7" x2="1830.4" y2="1386.3" stroke="#333333" stroke-width="4.2"/>
<text transform="translate(1830.4 1416.6) scale(1 1.0)" font-size="28.8" text-anchor="middle" fill="#4D4D4D">−119</text>
<text transform="translate(1659.2 1454.6) scale(1 1.0)" font-size="28.8" textLength="127.04" lengthAdjust="spacingAndGlyphs">Longitude</text>
<text transform="translate(1482.5 862.2) scale(1 1.0)" font-size="29.5" font-weight="bold">f</text>
<rect x="326.4" y="1283.1" width="304.9" height="75.1" fill="#fff" stroke="#000" stroke-width="1.3"/>
<rect x="476.3" y="1291.3" width="146.2" height="29.1" fill="url(#gR)"/>
<line x1="512.9" y1="1291.3" x2="512.9" y2="1297.1" stroke="#fff" stroke-width="1.3"/>
<line x1="512.9" y1="1314.6" x2="512.9" y2="1320.4" stroke="#fff" stroke-width="1.3"/>
<line x1="549.4" y1="1291.3" x2="549.4" y2="1297.1" stroke="#fff" stroke-width="1.3"/>
<line x1="549.4" y1="1314.6" x2="549.4" y2="1320.4" stroke="#fff" stroke-width="1.3"/>
<line x1="586" y1="1291.3" x2="586" y2="1297.1" stroke="#fff" stroke-width="1.3"/>
<line x1="586" y1="1314.6" x2="586" y2="1320.4" stroke="#fff" stroke-width="1.3"/>
<text transform="translate(476.3 1346) scale(1 1.0)" font-size="19" text-anchor="middle">0</text>
<text transform="translate(512.9 1346) scale(1 1.0)" font-size="19" text-anchor="middle">2</text>
<text transform="translate(549.4 1346) scale(1 1.0)" font-size="19" text-anchor="middle">4</text>
<text transform="translate(586 1346) scale(1 1.0)" font-size="19" text-anchor="middle">6</text>
<text transform="translate(622.5 1346) scale(1 1.0)" font-size="19" text-anchor="middle">8</text>
<text transform="translate(336 1326.8) scale(1 1.0)" font-size="20">Mean NO<tspan font-size="14" dy="3">3</tspan><tspan dy="-3"> μM</tspan></text>
<rect x="993.6" y="1283.1" width="304.9" height="75.1" fill="#fff" stroke="#000" stroke-width="1.3"/>
<rect x="1143.5" y="1291.3" width="146.2" height="29.1" fill="url(#gR)"/>
<line x1="1180" y1="1291.3" x2="1180" y2="1297.1" stroke="#fff" stroke-width="1.3"/>
<line x1="1180" y1="1314.6" x2="1180" y2="1320.4" stroke="#fff" stroke-width="1.3"/>
<line x1="1216.6" y1="1291.3" x2="1216.6" y2="1297.1" stroke="#fff" stroke-width="1.3"/>
<line x1="1216.6" y1="1314.6" x2="1216.6" y2="1320.4" stroke="#fff" stroke-width="1.3"/>
<line x1="1253.2" y1="1291.3" x2="1253.2" y2="1297.1" stroke="#fff" stroke-width="1.3"/>
<line x1="1253.2" y1="1314.6" x2="1253.2" y2="1320.4" stroke="#fff" stroke-width="1.3"/>
<text transform="translate(1143.5 1346) scale(1 1.0)" font-size="19" text-anchor="middle">0</text>
<text transform="translate(1180 1346) scale(1 1.0)" font-size="19" text-anchor="middle">2</text>
<text transform="translate(1216.6 1346) scale(1 1.0)" font-size="19" text-anchor="middle">4</text>
<text transform="translate(1253.2 1346) scale(1 1.0)" font-size="19" text-anchor="middle">6</text>
<text transform="translate(1289.7 1346) scale(1 1.0)" font-size="19" text-anchor="middle">8</text>
<text transform="translate(1003.2 1326.8) scale(1 1.0)" font-size="20">Mean NO<tspan font-size="14" dy="3">3</tspan><tspan dy="-3"> μM</tspan></text>
<rect x="1699.7" y="1283.4" width="265.8" height="75.1" fill="#fff" stroke="#000" stroke-width="1.3"/>
<rect x="1810.5" y="1291.3" width="145.2" height="29.4" fill="url(#gB)"/>
<line x1="1859.4" y1="1291.3" x2="1859.4" y2="1297.1" stroke="#fff" stroke-width="1.3"/>
<line x1="1859.4" y1="1314.9" x2="1859.4" y2="1320.7" stroke="#fff" stroke-width="1.3"/>
<line x1="1908" y1="1291.3" x2="1908" y2="1297.1" stroke="#fff" stroke-width="1.3"/>
<line x1="1908" y1="1314.9" x2="1908" y2="1320.7" stroke="#fff" stroke-width="1.3"/>
<text transform="translate(1810.8 1345.6) scale(1 1.0)" font-size="19" text-anchor="middle">−6</text>
<text transform="translate(1859.4 1345.6) scale(1 1.0)" font-size="19" text-anchor="middle">−4</text>
<text transform="translate(1908 1345.6) scale(1 1.0)" font-size="19" text-anchor="middle">−2</text>
<text transform="translate(1956.5 1345.6) scale(1 1.0)" font-size="19" text-anchor="middle">0</text>
<text transform="translate(1708.4 1325.9) scale(1 1.0)" font-size="20">Δ NO<tspan font-size="14" dy="3">3</tspan><tspan dy="-3"> μM</tspan></text>
<clipPath id="cg0"><rect x="115.7" y="1576.7" width="351.9" height="374.3"/></clipPath>
<g clip-path="url(#cg0)">
<path d="M265.1 1572.2 L265.1 1576.7 L265.2 1584.2 L271.2 1592.4 L280.1 1595 L283 1600.1 L282.3 1603.9 L279.5 1608.9 L279.5 1615.9 L280.8 1619.1 L285.8 1624.2 L289 1628.6 L292.8 1634.3 L294.1 1636.8 L296.6 1639.4 L297.9 1642.5 L302.3 1645.7 L305.5 1650.2 L309.3 1652.7 L310.2 1655.3 L309.9 1659 L311.2 1662.2 L315.7 1667.3 L316.9 1673.6 L317.2 1680 L316.7 1685.2 L320.2 1688 L327.7 1688.7 L332.3 1688.7 L336.3 1689.7 L346.7 1690.4 L352.4 1692.6 L357.1 1697.3 L359.3 1700.7 L364 1703.6 L369.7 1705.3 L374.6 1704.7 L378.9 1705.1 L380.7 1709.7 L382.4 1714.5 L385.9 1717.6 L393.8 1720.8 L396.8 1721.6 L402.6 1721.2 L405.4 1724.1 L405.8 1728.4 L407.2 1730.2 L411.1 1735.8 L414.1 1740.3 L415.5 1746.7 L415.5 1752.2 L415.7 1756.5 L418.4 1756.1 L419.5 1758.2 L419.8 1761.1 L420.8 1770.2 L425.3 1775.8 L427 1781.5 L429.2 1784.9 L434.3 1788.8 L433.8 1792.2 L431 1793.3 L432.6 1795 L432.6 1800.1 L440.5 1809.6 L443.3 1815.3 L443.3 1822 L450.7 1828.8 L451.8 1842.3 L456.8 1845.7 L458.5 1859.2 L460.2 1861.5 L462 1867.1 L467 1872.7 L472.1 1876 L504.9 1880.1 L504.9 1544.8 L265.1 1544.8 Z" fill="#BEBEBE" stroke="none"/>
<path d="M265.1 1572.2 L265.1 1576.7 L265.2 1584.2 L271.2 1592.4 L280.1 1595 L283 1600.1 L282.3 1603.9 L279.5 1608.9 L279.5 1615.9 L280.8 1619.1 L285.8 1624.2 L289 1628.6 L292.8 1634.3 L294.1 1636.8 L296.6 1639.4 L297.9 1642.5 L302.3 1645.7 L305.5 1650.2 L309.3 1652.7 L310.2 1655.3 L309.9 1659 L311.2 1662.2 L315.7 1667.3 L316.9 1673.6 L317.2 1680 L316.7 1685.2 L320.2 1688 L327.7 1688.7 L332.3 1688.7 L336.3 1689.7 L346.7 1690.4 L352.4 1692.6 L357.1 1697.3 L359.3 1700.7 L364 1703.6 L369.7 1705.3 L374.6 1704.7 L378.9 1705.1 L380.7 1709.7 L382.4 1714.5 L385.9 1717.6 L393.8 1720.8 L396.8 1721.6 L402.6 1721.2 L405.4 1724.1 L405.8 1728.4 L407.2 1730.2 L411.1 1735.8 L414.1 1740.3 L415.5 1746.7 L415.5 1752.2 L415.7 1756.5 L418.4 1756.1 L419.5 1758.2 L419.8 1761.1 L420.8 1770.2 L425.3 1775.8 L427 1781.5 L429.2 1784.9 L434.3 1788.8 L433.8 1792.2 L431 1793.3 L432.6 1795 L432.6 1800.1 L440.5 1809.6 L443.3 1815.3 L443.3 1822 L450.7 1828.8 L451.8 1842.3 L456.8 1845.7 L458.5 1859.2 L460.2 1861.5 L462 1867.1 L467 1872.7 L472.1 1876" fill="none" stroke="#000" stroke-width="3.5" stroke-linejoin="round"/>
<path d="M419.7 1762.2 L472.1 1756.8" fill="none" stroke="#000" stroke-width="3.5"/>
<path d="M321.6 1705.4 L324.1 1703.1 L326.6 1704.7 L333.1 1704.7 L336.3 1706.9 L336.7 1708.6 L332.8 1706.9 L327.7 1706.9 L322.3 1706.4 Z" fill="#000" stroke="#000" stroke-width="3" stroke-linejoin="round"/>
<path d="M337.1 1703.6 L339.2 1702.7 L344.6 1704.7 L349.3 1705.8 L348.9 1707.5 L342.1 1709.3 L338.5 1707.9 L337.1 1705.4 Z" fill="#000" stroke="#000" stroke-width="3" stroke-linejoin="round"/>
<path d="M350 1733.1 L352.9 1736.3 L352.5 1737.7 L348.9 1737.4 Z" fill="#000" stroke="#000" stroke-width="3" stroke-linejoin="round"/>
<path d="M376 1726.6 L378.3 1725.7 L384.6 1729.4 L382.3 1731.8 L379.4 1732.3 L378.3 1730.1 L376.6 1728.3 Z" fill="#000" stroke="#000" stroke-width="3" stroke-linejoin="round"/>
<path d="M375.7 1743.5 L377.7 1742.7 L384.6 1750.7 L384.1 1752.4 L381.8 1752.8 L378.9 1749 Z" fill="#000" stroke="#000" stroke-width="3" stroke-linejoin="round"/>
<path d="M380.8 1889.6 L384 1888.2 L386.8 1889.3 L387 1891.5 L388.7 1894.7 L389 1900 L386.2 1903.6 L384.3 1902.2 L382.1 1897.2 L380.3 1893.4 Z" fill="#000" stroke="#000" stroke-width="3" stroke-linejoin="round"/>
<circle cx="313.2" cy="1665.3" r="7.1" fill="#FC8A6A" stroke="#1a1a1a" stroke-width="0.8"/>
<circle cx="308.4" cy="1668" r="7.1" fill="#FCBBA1" stroke="#1a1a1a" stroke-width="0.8"/>
<circle cx="290" cy="1679.6" r="7.1" fill="#FB7A5A" stroke="#1a1a1a" stroke-width="0.8"/>
<circle cx="269.5" cy="1691.9" r="7.1" fill="#FCBBA1" stroke="#1a1a1a" stroke-width="0.8"/>
<circle cx="249" cy="1704.9" r="7.1" fill="#FFFFFF" stroke="#1a1a1a" stroke-width="0.8"/>
<circle cx="311.8" cy="1694.6" r="7.1" fill="#FCA68B" stroke="#1a1a1a" stroke-width="0.8"/>
<circle cx="334.8" cy="1696.3" r="7.1" fill="#FCBBA1" stroke="#1a1a1a" stroke-width="0.8"/>
<circle cx="349.8" cy="1700.1" r="7.1" fill="#FC8A6A" stroke="#1a1a1a" stroke-width="0.8"/>
<circle cx="281.4" cy="1713.7" r="7.1" fill="#FC9A7E" stroke="#1a1a1a" stroke-width="0.8"/>
<circle cx="261" cy="1726.7" r="7.1" fill="#FC9A7E" stroke="#1a1a1a" stroke-width="0.8"/>
<circle cx="209" cy="1730.1" r="7.1" fill="#FCA68B" stroke="#1a1a1a" stroke-width="0.8"/>
<circle cx="293" cy="1735.9" r="7.1" fill="#FC9A7E" stroke="#1a1a1a" stroke-width="0.8"/>
<circle cx="272.9" cy="1748.3" r="7.1" fill="#FC9A7E" stroke="#1a1a1a" stroke-width="0.8"/>
<circle cx="221" cy="1752" r="7.1" fill="#FCBBA1" stroke="#1a1a1a" stroke-width="0.8"/>
<circle cx="252.8" cy="1760.9" r="7.1" fill="#FDD5C4" stroke="#1a1a1a" stroke-width="0.8"/>
<circle cx="305" cy="1757.8" r="7.1" fill="#FC8A6A" stroke="#1a1a1a" stroke-width="0.8"/>
<circle cx="284.9" cy="1770.7" r="7.1" fill="#FC8A6A" stroke="#1a1a1a" stroke-width="0.8"/>
<circle cx="233" cy="1773.8" r="7.1" fill="#F86A4A" stroke="#1a1a1a" stroke-width="0.8"/>
<circle cx="265" cy="1783.7" r="7.1" fill="#F97A5A" stroke="#1a1a1a" stroke-width="0.8"/>
<circle cx="213.1" cy="1786.8" r="7.1" fill="#F86A4A" stroke="#1a1a1a" stroke-width="0.8"/>
<circle cx="316.6" cy="1780" r="7.1" fill="#FCAF96" stroke="#1a1a1a" stroke-width="0.8"/>
<circle cx="379.4" cy="1710.7" r="7.1" fill="#FC9A7E" stroke="#1a1a1a" stroke-width="0.8"/>
<circle cx="365.8" cy="1720.3" r="7.1" fill="#FFFFFF" stroke="#1a1a1a" stroke-width="0.8"/>
<circle cx="355.5" cy="1726" r="7.1" fill="#FCB59C" stroke="#1a1a1a" stroke-width="0.8"/>
<circle cx="345.7" cy="1733.1" r="7.1" fill="#FCA68B" stroke="#1a1a1a" stroke-width="0.8"/>
<circle cx="382.8" cy="1738" r="7.1" fill="#FCBBA1" stroke="#1a1a1a" stroke-width="0.8"/>
<circle cx="415.3" cy="1746.5" r="7.1" fill="#FDCBB8" stroke="#1a1a1a" stroke-width="0.8"/>
<circle cx="407.7" cy="1750.9" r="7.1" fill="#FF0000" stroke="#1a1a1a" stroke-width="0.8"/>
<circle cx="350.7" cy="1758.1" r="7.1" fill="#FCBBA1" stroke="#1a1a1a" stroke-width="0.8"/>
<circle cx="378.1" cy="1770" r="7.1" fill="#FEF0EA" stroke="#1a1a1a" stroke-width="0.8"/>
<circle cx="367.8" cy="1776.3" r="7.1" fill="#FFFFFF" stroke="#1a1a1a" stroke-width="0.8"/>
<circle cx="328" cy="1801.8" r="7.1" fill="#FEE6DC" stroke="#1a1a1a" stroke-width="0.8"/>
<circle cx="308.4" cy="1814.5" r="7.1" fill="#FEE0D2" stroke="#1a1a1a" stroke-width="0.8"/>
<circle cx="277" cy="1805.6" r="7.1" fill="#FCBBA1" stroke="#1a1a1a" stroke-width="0.8"/>
<circle cx="225.8" cy="1808.9" r="7.1" fill="#FC9A7E" stroke="#1a1a1a" stroke-width="0.8"/>
<circle cx="269.1" cy="1840" r="7.1" fill="#FFFBF8" stroke="#1a1a1a" stroke-width="0.8"/>
<circle cx="218" cy="1843.5" r="7.1" fill="#FCB59C" stroke="#1a1a1a" stroke-width="0.8"/>
<circle cx="230.3" cy="1865.3" r="7.1" fill="#FC9A7E" stroke="#1a1a1a" stroke-width="0.8"/>
</g>
<rect x="115.7" y="1576.7" width="351.9" height="374.3" fill="none" stroke="#000" stroke-width="2.4"/>
<text transform="translate(115.7 1532) scale(1 1.0)" font-size="28.8" textLength="105.06" lengthAdjust="spacingAndGlyphs">Archaea</text>
<line x1="189.9" y1="1952.4" x2="189.9" y2="1963.9" stroke="#333333" stroke-width="4.2"/>
<text transform="translate(189.9 1994) scale(1 1.0)" font-size="28.8" text-anchor="middle" fill="#4D4D4D">−125</text>
<line x1="277.5" y1="1952.4" x2="277.5" y2="1963.9" stroke="#333333" stroke-width="4.2"/>
<text transform="translate(277.5 1994) scale(1 1.0)" font-size="28.8" text-anchor="middle" fill="#4D4D4D">−122</text>
<line x1="365.1" y1="1952.4" x2="365.1" y2="1963.9" stroke="#333333" stroke-width="4.2"/>
<text transform="translate(365.1 1994) scale(1 1.0)" font-size="28.8" text-anchor="middle" fill="#4D4D4D">−119</text>
<text transform="translate(228.3 2031) scale(1 1.0)" font-size="28.8" textLength="126.83" lengthAdjust="spacingAndGlyphs">Longitude</text>
<text transform="translate(124.6 1604.2) scale(1 1.0)" font-size="29.5" font-weight="bold">g</text>
<text transform="translate(382.7 1608.1) scale(1 1.0)" font-size="20.6" textLength="69.39" lengthAdjust="spacingAndGlyphs">Surface</text>
<text transform="translate(310 1636.6) scale(1 1.0)" font-size="20.6" textLength="141.88" lengthAdjust="spacingAndGlyphs">(2014−2016) vs</text>
<text transform="translate(336 1664.8) scale(1 1.0)" font-size="20.6" textLength="115.88" lengthAdjust="spacingAndGlyphs">(2017−2018)</text>
<clipPath id="cg1"><rect x="497.6" y="1576.7" width="351.9" height="374.3"/></clipPath>
<g clip-path="url(#cg1)">
<path d="M646.9 1572.2 L646.9 1576.7 L647.1 1584.2 L653.1 1592.4 L662 1595 L664.9 1600.1 L664.2 1603.9 L661.4 1608.9 L661.4 1615.9 L662.6 1619.1 L667.7 1624.2 L670.9 1628.6 L674.6 1634.3 L675.9 1636.8 L678.5 1639.4 L679.7 1642.5 L684.2 1645.7 L687.4 1650.2 L691.1 1652.7 L692.1 1655.3 L691.8 1659 L693.1 1662.2 L697.5 1667.3 L698.7 1673.6 L699.1 1680 L698.6 1685.2 L702 1688 L709.5 1688.7 L714.1 1688.7 L718.2 1689.7 L728.5 1690.4 L734.2 1692.6 L738.9 1697.3 L741.2 1700.7 L745.8 1703.6 L751.6 1705.3 L756.4 1704.7 L760.7 1705.1 L762.6 1709.7 L764.3 1714.5 L767.7 1717.6 L775.6 1720.8 L778.7 1721.6 L784.4 1721.2 L787.3 1724.1 L787.6 1728.4 L789.1 1730.2 L793 1735.8 L795.9 1740.3 L797.3 1746.7 L797.3 1752.2 L797.5 1756.5 L800.2 1756.1 L801.3 1758.2 L801.7 1761.1 L802.6 1770.2 L807.1 1775.8 L808.8 1781.5 L811.1 1784.9 L816.2 1788.8 L815.6 1792.2 L812.8 1793.3 L814.4 1795 L814.4 1800.1 L822.4 1809.6 L825.2 1815.3 L825.2 1822 L832.5 1828.8 L833.6 1842.3 L838.7 1845.7 L840.4 1859.2 L842.1 1861.5 L843.8 1867.1 L848.9 1872.7 L853.9 1876 L886.8 1880.1 L886.8 1544.8 L646.9 1544.8 Z" fill="#BEBEBE" stroke="none"/>
<path d="M646.9 1572.2 L646.9 1576.7 L647.1 1584.2 L653.1 1592.4 L662 1595 L664.9 1600.1 L664.2 1603.9 L661.4 1608.9 L661.4 1615.9 L662.6 1619.1 L667.7 1624.2 L670.9 1628.6 L674.6 1634.3 L675.9 1636.8 L678.5 1639.4 L679.7 1642.5 L684.2 1645.7 L687.4 1650.2 L691.1 1652.7 L692.1 1655.3 L691.8 1659 L693.1 1662.2 L697.5 1667.3 L698.7 1673.6 L699.1 1680 L698.6 1685.2 L702 1688 L709.5 1688.7 L714.1 1688.7 L718.2 1689.7 L728.5 1690.4 L734.2 1692.6 L738.9 1697.3 L741.2 1700.7 L745.8 1703.6 L751.6 1705.3 L756.4 1704.7 L760.7 1705.1 L762.6 1709.7 L764.3 1714.5 L767.7 1717.6 L775.6 1720.8 L778.7 1721.6 L784.4 1721.2 L787.3 1724.1 L787.6 1728.4 L789.1 1730.2 L793 1735.8 L795.9 1740.3 L797.3 1746.7 L797.3 1752.2 L797.5 1756.5 L800.2 1756.1 L801.3 1758.2 L801.7 1761.1 L802.6 1770.2 L807.1 1775.8 L808.8 1781.5 L811.1 1784.9 L816.2 1788.8 L815.6 1792.2 L812.8 1793.3 L814.4 1795 L814.4 1800.1 L822.4 1809.6 L825.2 1815.3 L825.2 1822 L832.5 1828.8 L833.6 1842.3 L838.7 1845.7 L840.4 1859.2 L842.1 1861.5 L843.8 1867.1 L848.9 1872.7 L853.9 1876" fill="none" stroke="#000" stroke-width="3.5" stroke-linejoin="round"/>
<path d="M801.6 1762.2 L853.9 1756.8" fill="none" stroke="#000" stroke-width="3.5"/>
<path d="M703.5 1705.4 L706 1703.1 L708.5 1704.7 L715 1704.7 L718.2 1706.9 L718.5 1708.6 L714.6 1706.9 L709.5 1706.9 L704.1 1706.4 Z" fill="#000" stroke="#000" stroke-width="3" stroke-linejoin="round"/>
<path d="M718.9 1703.6 L721 1702.7 L726.4 1704.7 L731.1 1705.8 L730.8 1707.5 L723.9 1709.3 L720.4 1707.9 L718.9 1705.4 Z" fill="#000" stroke="#000" stroke-width="3" stroke-linejoin="round"/>
<path d="M731.9 1733.1 L734.7 1736.3 L734.3 1737.7 L730.8 1737.4 Z" fill="#000" stroke="#000" stroke-width="3" stroke-linejoin="round"/>
<path d="M757.9 1726.6 L760.2 1725.7 L766.5 1729.4 L764.2 1731.8 L761.3 1732.3 L760.2 1730.1 L758.4 1728.3 Z" fill="#000" stroke="#000" stroke-width="3" stroke-linejoin="round"/>
<path d="M757.6 1743.5 L759.6 1742.7 L766.5 1750.7 L765.9 1752.4 L763.6 1752.8 L760.7 1749 Z" fill="#000" stroke="#000" stroke-width="3" stroke-linejoin="round"/>
<path d="M762.7 1889.6 L765.8 1888.2 L768.7 1889.3 L768.9 1891.5 L770.5 1894.7 L770.9 1900 L768.1 1903.6 L766.2 1902.2 L764 1897.2 L762.2 1893.4 Z" fill="#000" stroke="#000" stroke-width="3" stroke-linejoin="round"/>
<circle cx="695" cy="1665.3" r="7.1" fill="#FCA68B" stroke="#1a1a1a" stroke-width="0.8"/>
<circle cx="690.2" cy="1668" r="7.1" fill="#FF0000" stroke="#1a1a1a" stroke-width="0.8"/>
<circle cx="671.9" cy="1679.6" r="7.1" fill="#FB4A2C" stroke="#1a1a1a" stroke-width="0.8"/>
<circle cx="651.4" cy="1691.9" r="7.1" fill="#FC7A5A" stroke="#1a1a1a" stroke-width="0.8"/>
<circle cx="630.9" cy="1704.9" r="7.1" fill="#F83018" stroke="#1a1a1a" stroke-width="0.8"/>
<circle cx="693.7" cy="1694.6" r="7.1" fill="#FC7A5A" stroke="#1a1a1a" stroke-width="0.8"/>
<circle cx="716.7" cy="1696.3" r="7.1" fill="#FCAF96" stroke="#1a1a1a" stroke-width="0.8"/>
<circle cx="731.7" cy="1700.1" r="7.1" fill="#FCC1A9" stroke="#1a1a1a" stroke-width="0.8"/>
<circle cx="663.2" cy="1713.7" r="7.1" fill="#FB5030" stroke="#1a1a1a" stroke-width="0.8"/>
<circle cx="642.9" cy="1726.7" r="7.1" fill="#FB5535" stroke="#1a1a1a" stroke-width="0.8"/>
<circle cx="590.9" cy="1730.1" r="7.1" fill="#FB5E3E" stroke="#1a1a1a" stroke-width="0.8"/>
<circle cx="674.9" cy="1735.9" r="7.1" fill="#FB4525" stroke="#1a1a1a" stroke-width="0.8"/>
<circle cx="654.8" cy="1748.3" r="7.1" fill="#FB4A2C" stroke="#1a1a1a" stroke-width="0.8"/>
<circle cx="602.9" cy="1752" r="7.1" fill="#FB5E3E" stroke="#1a1a1a" stroke-width="0.8"/>
<circle cx="634.7" cy="1760.9" r="7.1" fill="#FB4A2C" stroke="#1a1a1a" stroke-width="0.8"/>
<circle cx="686.9" cy="1757.8" r="7.1" fill="#FB4525" stroke="#1a1a1a" stroke-width="0.8"/>
<circle cx="666.8" cy="1770.7" r="7.1" fill="#FB4A2C" stroke="#1a1a1a" stroke-width="0.8"/>
<circle cx="614.9" cy="1773.8" r="7.1" fill="#F52C14" stroke="#1a1a1a" stroke-width="0.8"/>
<circle cx="646.9" cy="1783.7" r="7.1" fill="#F52C14" stroke="#1a1a1a" stroke-width="0.8"/>
<circle cx="595" cy="1786.8" r="7.1" fill="#F83A1F" stroke="#1a1a1a" stroke-width="0.8"/>
<circle cx="698.5" cy="1780" r="7.1" fill="#FC7555" stroke="#1a1a1a" stroke-width="0.8"/>
<circle cx="761.2" cy="1710.7" r="7.1" fill="#FCAF96" stroke="#1a1a1a" stroke-width="0.8"/>
<circle cx="747.7" cy="1720.3" r="7.1" fill="#FFFFFF" stroke="#1a1a1a" stroke-width="0.8"/>
<circle cx="737.4" cy="1726" r="7.1" fill="#FC6A4A" stroke="#1a1a1a" stroke-width="0.8"/>
<circle cx="727.5" cy="1733.1" r="7.1" fill="#FC8A6A" stroke="#1a1a1a" stroke-width="0.8"/>
<circle cx="764.7" cy="1738" r="7.1" fill="#FC8464" stroke="#1a1a1a" stroke-width="0.8"/>
<circle cx="797.2" cy="1746.5" r="7.1" fill="#FC9A7E" stroke="#1a1a1a" stroke-width="0.8"/>
<circle cx="789.5" cy="1750.9" r="7.1" fill="#FF0000" stroke="#1a1a1a" stroke-width="0.8"/>
<circle cx="732.5" cy="1758.1" r="7.1" fill="#FC9A7E" stroke="#1a1a1a" stroke-width="0.8"/>
<circle cx="760" cy="1770" r="7.1" fill="#FCA68B" stroke="#1a1a1a" stroke-width="0.8"/>
<circle cx="749.7" cy="1776.3" r="7.1" fill="#FCA68B" stroke="#1a1a1a" stroke-width="0.8"/>
<circle cx="709.9" cy="1801.8" r="7.1" fill="#FEDCD0" stroke="#1a1a1a" stroke-width="0.8"/>
<circle cx="690.2" cy="1814.5" r="7.1" fill="#FCA08A" stroke="#1a1a1a" stroke-width="0.8"/>
<circle cx="658.9" cy="1805.6" r="7.1" fill="#FB5535" stroke="#1a1a1a" stroke-width="0.8"/>
<circle cx="607.7" cy="1808.9" r="7.1" fill="#FF0000" stroke="#1a1a1a" stroke-width="0.8"/>
<circle cx="651" cy="1840" r="7.1" fill="#FCA68B" stroke="#1a1a1a" stroke-width="0.8"/>
<circle cx="599.9" cy="1843.5" r="7.1" fill="#F83018" stroke="#1a1a1a" stroke-width="0.8"/>
<circle cx="612.2" cy="1865.3" r="7.1" fill="#FB5535" stroke="#1a1a1a" stroke-width="0.8"/>
</g>
<rect x="497.6" y="1576.7" width="351.9" height="374.3" fill="none" stroke="#000" stroke-width="2.4"/>
<text transform="translate(495.2 1532) scale(1 1.0)" font-size="28.8" textLength="106.35" lengthAdjust="spacingAndGlyphs">Bacteria</text>
<line x1="571.8" y1="1952.4" x2="571.8" y2="1963.9" stroke="#333333" stroke-width="4.2"/>
<text transform="translate(571.8 1994) scale(1 1.0)" font-size="28.8" text-anchor="middle" fill="#4D4D4D">−125</text>
<line x1="659.4" y1="1952.4" x2="659.4" y2="1963.9" stroke="#333333" stroke-width="4.2"/>
<text transform="translate(659.4 1994) scale(1 1.0)" font-size="28.8" text-anchor="middle" fill="#4D4D4D">−122</text>
<line x1="747" y1="1952.4" x2="747" y2="1963.9" stroke="#333333" stroke-width="4.2"/>
<text transform="translate(747 1994) scale(1 1.0)" font-size="28.8" text-anchor="middle" fill="#4D4D4D">−119</text>
<text transform="translate(610.2 2031) scale(1 1.0)" font-size="28.8" textLength="126.83" lengthAdjust="spacingAndGlyphs">Longitude</text>
<text transform="translate(506.4 1604.2) scale(1 1.0)" font-size="29.5" font-weight="bold">h</text>
<text transform="translate(764.5 1608.1) scale(1 1.0)" font-size="20.6" textLength="69.39" lengthAdjust="spacingAndGlyphs">Surface</text>
<text transform="translate(691.9 1636.6) scale(1 1.0)" font-size="20.6" textLength="141.88" lengthAdjust="spacingAndGlyphs">(2014−2016) vs</text>
<text transform="translate(717.9 1664.8) scale(1 1.0)" font-size="20.6" textLength="115.88" lengthAdjust="spacingAndGlyphs">(2017−2018)</text>
<clipPath id="cg2"><rect x="879.4" y="1576.7" width="351.9" height="374.3"/></clipPath>
<g clip-path="url(#cg2)">
<path d="M1028.8 1572.2 L1028.8 1576.7 L1028.9 1584.2 L1034.9 1592.4 L1043.8 1595 L1046.7 1600.1 L1046 1603.9 L1043.2 1608.9 L1043.2 1615.9 L1044.5 1619.1 L1049.5 1624.2 L1052.7 1628.6 L1056.5 1634.3 L1057.8 1636.8 L1060.3 1639.4 L1061.6 1642.5 L1066 1645.7 L1069.2 1650.2 L1073 1652.7 L1073.9 1655.3 L1073.6 1659 L1074.9 1662.2 L1079.4 1667.3 L1080.6 1673.6 L1080.9 1680 L1080.4 1685.2 L1083.9 1688 L1091.4 1688.7 L1096 1688.7 L1100 1689.7 L1110.4 1690.4 L1116.1 1692.6 L1120.8 1697.3 L1123 1700.7 L1127.7 1703.6 L1133.4 1705.3 L1138.3 1704.7 L1142.6 1705.1 L1144.4 1709.7 L1146.1 1714.5 L1149.6 1717.6 L1157.5 1720.8 L1160.5 1721.6 L1166.3 1721.2 L1169.1 1724.1 L1169.5 1728.4 L1170.9 1730.2 L1174.8 1735.8 L1177.8 1740.3 L1179.2 1746.7 L1179.2 1752.2 L1179.4 1756.5 L1182.1 1756.1 L1183.2 1758.2 L1183.5 1761.1 L1184.5 1770.2 L1189 1775.8 L1190.7 1781.5 L1192.9 1784.9 L1198 1788.8 L1197.5 1792.2 L1194.7 1793.3 L1196.3 1795 L1196.3 1800.1 L1204.2 1809.6 L1207 1815.3 L1207 1822 L1214.4 1828.8 L1215.5 1842.3 L1220.5 1845.7 L1222.2 1859.2 L1223.9 1861.5 L1225.7 1867.1 L1230.7 1872.7 L1235.8 1876 L1268.6 1880.1 L1268.6 1544.8 L1028.8 1544.8 Z" fill="#BEBEBE" stroke="none"/>
<path d="M1028.8 1572.2 L1028.8 1576.7 L1028.9 1584.2 L1034.9 1592.4 L1043.8 1595 L1046.7 1600.1 L1046 1603.9 L1043.2 1608.9 L1043.2 1615.9 L1044.5 1619.1 L1049.5 1624.2 L1052.7 1628.6 L1056.5 1634.3 L1057.8 1636.8 L1060.3 1639.4 L1061.6 1642.5 L1066 1645.7 L1069.2 1650.2 L1073 1652.7 L1073.9 1655.3 L1073.6 1659 L1074.9 1662.2 L1079.4 1667.3 L1080.6 1673.6 L1080.9 1680 L1080.4 1685.2 L1083.9 1688 L1091.4 1688.7 L1096 1688.7 L1100 1689.7 L1110.4 1690.4 L1116.1 1692.6 L1120.8 1697.3 L1123 1700.7 L1127.7 1703.6 L1133.4 1705.3 L1138.3 1704.7 L1142.6 1705.1 L1144.4 1709.7 L1146.1 1714.5 L1149.6 1717.6 L1157.5 1720.8 L1160.5 1721.6 L1166.3 1721.2 L1169.1 1724.1 L1169.5 1728.4 L1170.9 1730.2 L1174.8 1735.8 L1177.8 1740.3 L1179.2 1746.7 L1179.2 1752.2 L1179.4 1756.5 L1182.1 1756.1 L1183.2 1758.2 L1183.5 1761.1 L1184.5 1770.2 L1189 1775.8 L1190.7 1781.5 L1192.9 1784.9 L1198 1788.8 L1197.5 1792.2 L1194.7 1793.3 L1196.3 1795 L1196.3 1800.1 L1204.2 1809.6 L1207 1815.3 L1207 1822 L1214.4 1828.8 L1215.5 1842.3 L1220.5 1845.7 L1222.2 1859.2 L1223.9 1861.5 L1225.7 1867.1 L1230.7 1872.7 L1235.8 1876" fill="none" stroke="#000" stroke-width="3.5" stroke-linejoin="round"/>
<path d="M1183.4 1762.2 L1235.8 1756.8" fill="none" stroke="#000" stroke-width="3.5"/>
<path d="M1085.3 1705.4 L1087.8 1703.1 L1090.3 1704.7 L1096.8 1704.7 L1100 1706.9 L1100.4 1708.6 L1096.5 1706.9 L1091.4 1706.9 L1086 1706.4 Z" fill="#000" stroke="#000" stroke-width="3" stroke-linejoin="round"/>
<path d="M1100.8 1703.6 L1102.9 1702.7 L1108.3 1704.7 L1113 1705.8 L1112.6 1707.5 L1105.8 1709.3 L1102.2 1707.9 L1100.8 1705.4 Z" fill="#000" stroke="#000" stroke-width="3" stroke-linejoin="round"/>
<path d="M1113.7 1733.1 L1116.6 1736.3 L1116.2 1737.7 L1112.6 1737.4 Z" fill="#000" stroke="#000" stroke-width="3" stroke-linejoin="round"/>
<path d="M1139.7 1726.6 L1142 1725.7 L1148.3 1729.4 L1146 1731.8 L1143.1 1732.3 L1142 1730.1 L1140.3 1728.3 Z" fill="#000" stroke="#000" stroke-width="3" stroke-linejoin="round"/>
<path d="M1139.4 1743.5 L1141.4 1742.7 L1148.3 1750.7 L1147.8 1752.4 L1145.5 1752.8 L1142.6 1749 Z" fill="#000" stroke="#000" stroke-width="3" stroke-linejoin="round"/>
<path d="M1144.5 1889.6 L1147.7 1888.2 L1150.5 1889.3 L1150.7 1891.5 L1152.4 1894.7 L1152.7 1900 L1149.9 1903.6 L1148 1902.2 L1145.8 1897.2 L1144 1893.4 Z" fill="#000" stroke="#000" stroke-width="3" stroke-linejoin="round"/>
<circle cx="1076.9" cy="1665.3" r="7.1" fill="#FDC4B0" stroke="#1a1a1a" stroke-width="0.8"/>
<circle cx="1072.1" cy="1668" r="7.1" fill="#FB3A1E" stroke="#1a1a1a" stroke-width="0.8"/>
<circle cx="1053.7" cy="1679.6" r="7.1" fill="#FF0000" stroke="#1a1a1a" stroke-width="0.8"/>
<circle cx="1033.2" cy="1691.9" r="7.1" fill="#FDB8A0" stroke="#1a1a1a" stroke-width="0.8"/>
<circle cx="1012.7" cy="1704.9" r="7.1" fill="#F82010" stroke="#1a1a1a" stroke-width="0.8"/>
<circle cx="1075.5" cy="1694.6" r="7.1" fill="#FDB49A" stroke="#1a1a1a" stroke-width="0.8"/>
<circle cx="1098.5" cy="1696.3" r="7.1" fill="#FDDCD0" stroke="#1a1a1a" stroke-width="0.8"/>
<circle cx="1113.5" cy="1700.1" r="7.1" fill="#FFFFFF" stroke="#1a1a1a" stroke-width="0.8"/>
<circle cx="1045.1" cy="1713.7" r="7.1" fill="#FC8A6A" stroke="#1a1a1a" stroke-width="0.8"/>
<circle cx="1024.7" cy="1726.7" r="7.1" fill="#FC8A6A" stroke="#1a1a1a" stroke-width="0.8"/>
<circle cx="972.7" cy="1730.1" r="7.1" fill="#FF0000" stroke="#1a1a1a" stroke-width="0.8"/>
<circle cx="1056.7" cy="1735.9" r="7.1" fill="#FCA08A" stroke="#1a1a1a" stroke-width="0.8"/>
<circle cx="1036.6" cy="1748.3" r="7.1" fill="#FB4A2C" stroke="#1a1a1a" stroke-width="0.8"/>
<circle cx="984.7" cy="1752" r="7.1" fill="#FB3A1E" stroke="#1a1a1a" stroke-width="0.8"/>
<circle cx="1016.5" cy="1760.9" r="7.1" fill="#FF0000" stroke="#1a1a1a" stroke-width="0.8"/>
<circle cx="1068.7" cy="1757.8" r="7.1" fill="#FB4525" stroke="#1a1a1a" stroke-width="0.8"/>
<circle cx="1048.6" cy="1770.7" r="7.1" fill="#FF0000" stroke="#1a1a1a" stroke-width="0.8"/>
<circle cx="996.7" cy="1773.8" r="7.1" fill="#FF0000" stroke="#1a1a1a" stroke-width="0.8"/>
<circle cx="1028.7" cy="1783.7" r="7.1" fill="#FF0000" stroke="#1a1a1a" stroke-width="0.8"/>
<circle cx="976.8" cy="1786.8" r="7.1" fill="#FF0000" stroke="#1a1a1a" stroke-width="0.8"/>
<circle cx="1080.3" cy="1780" r="7.1" fill="#FB4A2C" stroke="#1a1a1a" stroke-width="0.8"/>
<circle cx="1143.1" cy="1710.7" r="7.1" fill="#FCAF96" stroke="#1a1a1a" stroke-width="0.8"/>
<circle cx="1129.5" cy="1720.3" r="7.1" fill="#FFFFFF" stroke="#1a1a1a" stroke-width="0.8"/>
<circle cx="1119.2" cy="1726" r="7.1" fill="#FCAF96" stroke="#1a1a1a" stroke-width="0.8"/>
<circle cx="1109.4" cy="1733.1" r="7.1" fill="#FDBBA3" stroke="#1a1a1a" stroke-width="0.8"/>
<circle cx="1146.5" cy="1738" r="7.1" fill="#FC9A7E" stroke="#1a1a1a" stroke-width="0.8"/>
<circle cx="1179" cy="1746.5" r="7.1" fill="#FC8A6A" stroke="#1a1a1a" stroke-width="0.8"/>
<circle cx="1171.4" cy="1750.9" r="7.1" fill="#FF0000" stroke="#1a1a1a" stroke-width="0.8"/>
<circle cx="1114.4" cy="1758.1" r="7.1" fill="#FCAF96" stroke="#1a1a1a" stroke-width="0.8"/>
<circle cx="1141.8" cy="1770" r="7.1" fill="#FDCBB8" stroke="#1a1a1a" stroke-width="0.8"/>
<circle cx="1131.5" cy="1776.3" r="7.1" fill="#FFFFFF" stroke="#1a1a1a" stroke-width="0.8"/>
<circle cx="1091.7" cy="1801.8" r="7.1" fill="#FC8A6A" stroke="#1a1a1a" stroke-width="0.8"/>
<circle cx="1072.1" cy="1814.5" r="7.1" fill="#FB3A1E" stroke="#1a1a1a" stroke-width="0.8"/>
<circle cx="1040.7" cy="1805.6" r="7.1" fill="#FF0000" stroke="#1a1a1a" stroke-width="0.8"/>
<circle cx="989.5" cy="1808.9" r="7.1" fill="#FF0000" stroke="#1a1a1a" stroke-width="0.8"/>
<circle cx="1032.8" cy="1840" r="7.1" fill="#FC8A6A" stroke="#1a1a1a" stroke-width="0.8"/>
<circle cx="981.7" cy="1843.5" r="7.1" fill="#FF0000" stroke="#1a1a1a" stroke-width="0.8"/>
<circle cx="994" cy="1865.3" r="7.1" fill="#FF0000" stroke="#1a1a1a" stroke-width="0.8"/>
</g>
<rect x="879.4" y="1576.7" width="351.9" height="374.3" fill="none" stroke="#000" stroke-width="2.4"/>
<text transform="translate(877.5 1532) scale(1 1.0)" font-size="28.8" textLength="184.69" lengthAdjust="spacingAndGlyphs">Cyanobacteria</text>
<line x1="953.6" y1="1952.4" x2="953.6" y2="1963.9" stroke="#333333" stroke-width="4.2"/>
<text transform="translate(953.6 1994) scale(1 1.0)" font-size="28.8" text-anchor="middle" fill="#4D4D4D">−125</text>
<line x1="1041.2" y1="1952.4" x2="1041.2" y2="1963.9" stroke="#333333" stroke-width="4.2"/>
<text transform="translate(1041.2 1994) scale(1 1.0)" font-size="28.8" text-anchor="middle" fill="#4D4D4D">−122</text>
<line x1="1128.8" y1="1952.4" x2="1128.8" y2="1963.9" stroke="#333333" stroke-width="4.2"/>
<text transform="translate(1128.8 1994) scale(1 1.0)" font-size="28.8" text-anchor="middle" fill="#4D4D4D">−119</text>
<text transform="translate(992 2031) scale(1 1.0)" font-size="28.8" textLength="126.83" lengthAdjust="spacingAndGlyphs">Longitude</text>
<text transform="translate(888.3 1604.2) scale(1 1.0)" font-size="29.5" font-weight="bold">i</text>
<text transform="translate(1146.4 1608.1) scale(1 1.0)" font-size="20.6" textLength="69.39" lengthAdjust="spacingAndGlyphs">Surface</text>
<text transform="translate(1073.7 1636.6) scale(1 1.0)" font-size="20.6" textLength="141.88" lengthAdjust="spacingAndGlyphs">(2014−2016) vs</text>
<text transform="translate(1099.7 1664.8) scale(1 1.0)" font-size="20.6" textLength="115.88" lengthAdjust="spacingAndGlyphs">(2017−2018)</text>
<clipPath id="cg3"><rect x="1261.3" y="1576.7" width="351.9" height="374.3"/></clipPath>
<g clip-path="url(#cg3)">
<path d="M1410.6 1572.2 L1410.6 1576.7 L1410.8 1584.2 L1416.8 1592.4 L1425.7 1595 L1428.6 1600.1 L1427.9 1603.9 L1425.1 1608.9 L1425.1 1615.9 L1426.3 1619.1 L1431.4 1624.2 L1434.6 1628.6 L1438.3 1634.3 L1439.6 1636.8 L1442.2 1639.4 L1443.4 1642.5 L1447.9 1645.7 L1451.1 1650.2 L1454.8 1652.7 L1455.8 1655.3 L1455.5 1659 L1456.8 1662.2 L1461.2 1667.3 L1462.4 1673.6 L1462.8 1680 L1462.3 1685.2 L1465.7 1688 L1473.2 1688.7 L1477.8 1688.7 L1481.9 1689.7 L1492.2 1690.4 L1497.9 1692.6 L1502.6 1697.3 L1504.9 1700.7 L1509.5 1703.6 L1515.3 1705.3 L1520.1 1704.7 L1524.4 1705.1 L1526.3 1709.7 L1528 1714.5 L1531.4 1717.6 L1539.3 1720.8 L1542.4 1721.6 L1548.1 1721.2 L1551 1724.1 L1551.3 1728.4 L1552.8 1730.2 L1556.7 1735.8 L1559.6 1740.3 L1561 1746.7 L1561 1752.2 L1561.2 1756.5 L1563.9 1756.1 L1565 1758.2 L1565.4 1761.1 L1566.3 1770.2 L1570.8 1775.8 L1572.5 1781.5 L1574.8 1784.9 L1579.9 1788.8 L1579.3 1792.2 L1576.5 1793.3 L1578.1 1795 L1578.1 1800.1 L1586.1 1809.6 L1588.9 1815.3 L1588.9 1822 L1596.2 1828.8 L1597.3 1842.3 L1602.4 1845.7 L1604.1 1859.2 L1605.8 1861.5 L1607.5 1867.1 L1612.6 1872.7 L1617.6 1876 L1650.5 1880.1 L1650.5 1544.8 L1410.6 1544.8 Z" fill="#BEBEBE" stroke="none"/>
<path d="M1410.6 1572.2 L1410.6 1576.7 L1410.8 1584.2 L1416.8 1592.4 L1425.7 1595 L1428.6 1600.1 L1427.9 1603.9 L1425.1 1608.9 L1425.1 1615.9 L1426.3 1619.1 L1431.4 1624.2 L1434.6 1628.6 L1438.3 1634.3 L1439.6 1636.8 L1442.2 1639.4 L1443.4 1642.5 L1447.9 1645.7 L1451.1 1650.2 L1454.8 1652.7 L1455.8 1655.3 L1455.5 1659 L1456.8 1662.2 L1461.2 1667.3 L1462.4 1673.6 L1462.8 1680 L1462.3 1685.2 L1465.7 1688 L1473.2 1688.7 L1477.8 1688.7 L1481.9 1689.7 L1492.2 1690.4 L1497.9 1692.6 L1502.6 1697.3 L1504.9 1700.7 L1509.5 1703.6 L1515.3 1705.3 L1520.1 1704.7 L1524.4 1705.1 L1526.3 1709.7 L1528 1714.5 L1531.4 1717.6 L1539.3 1720.8 L1542.4 1721.6 L1548.1 1721.2 L1551 1724.1 L1551.3 1728.4 L1552.8 1730.2 L1556.7 1735.8 L1559.6 1740.3 L1561 1746.7 L1561 1752.2 L1561.2 1756.5 L1563.9 1756.1 L1565 1758.2 L1565.4 1761.1 L1566.3 1770.2 L1570.8 1775.8 L1572.5 1781.5 L1574.8 1784.9 L1579.9 1788.8 L1579.3 1792.2 L1576.5 1793.3 L1578.1 1795 L1578.1 1800.1 L1586.1 1809.6 L1588.9 1815.3 L1588.9 1822 L1596.2 1828.8 L1597.3 1842.3 L1602.4 1845.7 L1604.1 1859.2 L1605.8 1861.5 L1607.5 1867.1 L1612.6 1872.7 L1617.6 1876" fill="none" stroke="#000" stroke-width="3.5" stroke-linejoin="round"/>
<path d="M1565.3 1762.2 L1617.6 1756.8" fill="none" stroke="#000" stroke-width="3.5"/>
<path d="M1467.2 1705.4 L1469.7 1703.1 L1472.2 1704.7 L1478.7 1704.7 L1481.9 1706.9 L1482.2 1708.6 L1478.3 1706.9 L1473.2 1706.9 L1467.8 1706.4 Z" fill="#000" stroke="#000" stroke-width="3" stroke-linejoin="round"/>
<path d="M1482.6 1703.6 L1484.7 1702.7 L1490.1 1704.7 L1494.8 1705.8 L1494.5 1707.5 L1487.6 1709.3 L1484.1 1707.9 L1482.6 1705.4 Z" fill="#000" stroke="#000" stroke-width="3" stroke-linejoin="round"/>
<path d="M1495.6 1733.1 L1498.4 1736.3 L1498 1737.7 L1494.5 1737.4 Z" fill="#000" stroke="#000" stroke-width="3" stroke-linejoin="round"/>
<path d="M1521.6 1726.6 L1523.9 1725.7 L1530.2 1729.4 L1527.9 1731.8 L1525 1732.3 L1523.9 1730.1 L1522.1 1728.3 Z" fill="#000" stroke="#000" stroke-width="3" stroke-linejoin="round"/>
<path d="M1521.3 1743.5 L1523.3 1742.7 L1530.2 1750.7 L1529.6 1752.4 L1527.3 1752.8 L1524.4 1749 Z" fill="#000" stroke="#000" stroke-width="3" stroke-linejoin="round"/>
<path d="M1526.4 1889.6 L1529.6 1888.2 L1532.4 1889.3 L1532.6 1891.5 L1534.3 1894.7 L1534.6 1900 L1531.8 1903.6 L1529.9 1902.2 L1527.7 1897.2 L1525.9 1893.4 Z" fill="#000" stroke="#000" stroke-width="3" stroke-linejoin="round"/>
<circle cx="1458.8" cy="1665.3" r="7.1" fill="#FFFFFF" stroke="#1a1a1a" stroke-width="0.8"/>
<circle cx="1454" cy="1668" r="7.1" fill="#FFFFFF" stroke="#1a1a1a" stroke-width="0.8"/>
<circle cx="1435.6" cy="1679.6" r="7.1" fill="#FEE4D8" stroke="#1a1a1a" stroke-width="0.8"/>
<circle cx="1415.1" cy="1691.9" r="7.1" fill="#FDC4B0" stroke="#1a1a1a" stroke-width="0.8"/>
<circle cx="1394.6" cy="1704.9" r="7.1" fill="#FCA08A" stroke="#1a1a1a" stroke-width="0.8"/>
<circle cx="1457.4" cy="1694.6" r="7.1" fill="#FFF8F5" stroke="#1a1a1a" stroke-width="0.8"/>
<circle cx="1480.4" cy="1696.3" r="7.1" fill="#FEE4D8" stroke="#1a1a1a" stroke-width="0.8"/>
<circle cx="1495.4" cy="1700.1" r="7.1" fill="#FED8C8" stroke="#1a1a1a" stroke-width="0.8"/>
<circle cx="1427" cy="1713.7" r="7.1" fill="#FCA890" stroke="#1a1a1a" stroke-width="0.8"/>
<circle cx="1406.6" cy="1726.7" r="7.1" fill="#FC9A7E" stroke="#1a1a1a" stroke-width="0.8"/>
<circle cx="1354.6" cy="1730.1" r="7.1" fill="#FB7050" stroke="#1a1a1a" stroke-width="0.8"/>
<circle cx="1438.6" cy="1735.9" r="7.1" fill="#FDBBA3" stroke="#1a1a1a" stroke-width="0.8"/>
<circle cx="1418.5" cy="1748.3" r="7.1" fill="#FB5E3E" stroke="#1a1a1a" stroke-width="0.8"/>
<circle cx="1366.6" cy="1752" r="7.1" fill="#FB7050" stroke="#1a1a1a" stroke-width="0.8"/>
<circle cx="1398.4" cy="1760.9" r="7.1" fill="#FCAF96" stroke="#1a1a1a" stroke-width="0.8"/>
<circle cx="1450.6" cy="1757.8" r="7.1" fill="#FCB59C" stroke="#1a1a1a" stroke-width="0.8"/>
<circle cx="1430.5" cy="1770.7" r="7.1" fill="#FC9678" stroke="#1a1a1a" stroke-width="0.8"/>
<circle cx="1378.6" cy="1773.8" r="7.1" fill="#FB5A38" stroke="#1a1a1a" stroke-width="0.8"/>
<circle cx="1410.6" cy="1783.7" r="7.1" fill="#FB5A38" stroke="#1a1a1a" stroke-width="0.8"/>
<circle cx="1358.7" cy="1786.8" r="7.1" fill="#FC9070" stroke="#1a1a1a" stroke-width="0.8"/>
<circle cx="1462.2" cy="1780" r="7.1" fill="#FCA08A" stroke="#1a1a1a" stroke-width="0.8"/>
<circle cx="1525" cy="1710.7" r="7.1" fill="#FED5C4" stroke="#1a1a1a" stroke-width="0.8"/>
<circle cx="1511.4" cy="1720.3" r="7.1" fill="#FFFFFF" stroke="#1a1a1a" stroke-width="0.8"/>
<circle cx="1501.1" cy="1726" r="7.1" fill="#FDCBB8" stroke="#1a1a1a" stroke-width="0.8"/>
<circle cx="1491.3" cy="1733.1" r="7.1" fill="#FCAF96" stroke="#1a1a1a" stroke-width="0.8"/>
<circle cx="1528.4" cy="1738" r="7.1" fill="#FCA08A" stroke="#1a1a1a" stroke-width="0.8"/>
<circle cx="1560.9" cy="1746.5" r="7.1" fill="#FED5C4" stroke="#1a1a1a" stroke-width="0.8"/>
<circle cx="1553.3" cy="1750.9" r="7.1" fill="#FB7050" stroke="#1a1a1a" stroke-width="0.8"/>
<circle cx="1496.3" cy="1758.1" r="7.1" fill="#FED5C4" stroke="#1a1a1a" stroke-width="0.8"/>
<circle cx="1523.7" cy="1770" r="7.1" fill="#FCAF96" stroke="#1a1a1a" stroke-width="0.8"/>
<circle cx="1513.4" cy="1776.3" r="7.1" fill="#FFFFFF" stroke="#1a1a1a" stroke-width="0.8"/>
<circle cx="1473.6" cy="1801.8" r="7.1" fill="#FFFFFF" stroke="#1a1a1a" stroke-width="0.8"/>
<circle cx="1454" cy="1814.5" r="7.1" fill="#FC9A7E" stroke="#1a1a1a" stroke-width="0.8"/>
<circle cx="1422.6" cy="1805.6" r="7.1" fill="#FC8464" stroke="#1a1a1a" stroke-width="0.8"/>
<circle cx="1371.4" cy="1808.9" r="7.1" fill="#FB7A5A" stroke="#1a1a1a" stroke-width="0.8"/>
<circle cx="1414.7" cy="1840" r="7.1" fill="#FC8A6A" stroke="#1a1a1a" stroke-width="0.8"/>
<circle cx="1363.6" cy="1843.5" r="7.1" fill="#FB7050" stroke="#1a1a1a" stroke-width="0.8"/>
<circle cx="1375.9" cy="1865.3" r="7.1" fill="#FB7050" stroke="#1a1a1a" stroke-width="0.8"/>
</g>
<rect x="1261.3" y="1576.7" width="351.9" height="374.3" fill="none" stroke="#000" stroke-width="2.4"/>
<text transform="translate(1259.2 1516.1) scale(1 1.0)" font-size="28.8" textLength="330.80" lengthAdjust="spacingAndGlyphs">Photosynthetic Eukaryotic</text>
<text transform="translate(1259.2 1546.7) scale(1 1.0)" font-size="28.8" textLength="96.89" lengthAdjust="spacingAndGlyphs">Protists</text>
<line x1="1335.5" y1="1952.4" x2="1335.5" y2="1963.9" stroke="#333333" stroke-width="4.2"/>
<text transform="translate(1335.5 1994) scale(1 1.0)" font-size="28.8" text-anchor="middle" fill="#4D4D4D">−125</text>
<line x1="1423.1" y1="1952.4" x2="1423.1" y2="1963.9" stroke="#333333" stroke-width="4.2"/>
<text transform="translate(1423.1 1994) scale(1 1.0)" font-size="28.8" text-anchor="middle" fill="#4D4D4D">−122</text>
<line x1="1510.7" y1="1952.4" x2="1510.7" y2="1963.9" stroke="#333333" stroke-width="4.2"/>
<text transform="translate(1510.7 1994) scale(1 1.0)" font-size="28.8" text-anchor="middle" fill="#4D4D4D">−119</text>
<text transform="translate(1373.9 2031) scale(1 1.0)" font-size="28.8" textLength="126.83" lengthAdjust="spacingAndGlyphs">Longitude</text>
<text transform="translate(1270.2 1604.2) scale(1 1.0)" font-size="29.5" font-weight="bold">j</text>
<text transform="translate(1528.2 1608.1) scale(1 1.0)" font-size="20.6" textLength="69.39" lengthAdjust="spacingAndGlyphs">Surface</text>
<text transform="translate(1455.6 1636.6) scale(1 1.0)" font-size="20.6" textLength="141.88" lengthAdjust="spacingAndGlyphs">(2014−2016) vs</text>
<text transform="translate(1481.6 1664.8) scale(1 1.0)" font-size="20.6" textLength="115.88" lengthAdjust="spacingAndGlyphs">(2017−2018)</text>
<clipPath id="cg4"><rect x="1643.1" y="1576.7" width="351.9" height="374.3"/></clipPath>
<g clip-path="url(#cg4)">
<path d="M1792.5 1572.2 L1792.5 1576.7 L1792.6 1584.2 L1798.6 1592.4 L1807.5 1595 L1810.4 1600.1 L1809.7 1603.9 L1806.9 1608.9 L1806.9 1615.9 L1808.2 1619.1 L1813.2 1624.2 L1816.4 1628.6 L1820.2 1634.3 L1821.5 1636.8 L1824 1639.4 L1825.3 1642.5 L1829.7 1645.7 L1832.9 1650.2 L1836.7 1652.7 L1837.6 1655.3 L1837.3 1659 L1838.6 1662.2 L1843.1 1667.3 L1844.3 1673.6 L1844.6 1680 L1844.1 1685.2 L1847.6 1688 L1855.1 1688.7 L1859.7 1688.7 L1863.7 1689.7 L1874.1 1690.4 L1879.8 1692.6 L1884.5 1697.3 L1886.7 1700.7 L1891.4 1703.6 L1897.1 1705.3 L1902 1704.7 L1906.3 1705.1 L1908.1 1709.7 L1909.8 1714.5 L1913.3 1717.6 L1921.2 1720.8 L1924.2 1721.6 L1930 1721.2 L1932.8 1724.1 L1933.2 1728.4 L1934.6 1730.2 L1938.5 1735.8 L1941.5 1740.3 L1942.9 1746.7 L1942.9 1752.2 L1943.1 1756.5 L1945.8 1756.1 L1946.9 1758.2 L1947.2 1761.1 L1948.2 1770.2 L1952.7 1775.8 L1954.4 1781.5 L1956.6 1784.9 L1961.7 1788.8 L1961.2 1792.2 L1958.4 1793.3 L1960 1795 L1960 1800.1 L1967.9 1809.6 L1970.7 1815.3 L1970.7 1822 L1978.1 1828.8 L1979.2 1842.3 L1984.2 1845.7 L1985.9 1859.2 L1987.6 1861.5 L1989.4 1867.1 L1994.4 1872.7 L1999.5 1876 L2032.3 1880.1 L2032.3 1544.8 L1792.5 1544.8 Z" fill="#BEBEBE" stroke="none"/>
<path d="M1792.5 1572.2 L1792.5 1576.7 L1792.6 1584.2 L1798.6 1592.4 L1807.5 1595 L1810.4 1600.1 L1809.7 1603.9 L1806.9 1608.9 L1806.9 1615.9 L1808.2 1619.1 L1813.2 1624.2 L1816.4 1628.6 L1820.2 1634.3 L1821.5 1636.8 L1824 1639.4 L1825.3 1642.5 L1829.7 1645.7 L1832.9 1650.2 L1836.7 1652.7 L1837.6 1655.3 L1837.3 1659 L1838.6 1662.2 L1843.1 1667.3 L1844.3 1673.6 L1844.6 1680 L1844.1 1685.2 L1847.6 1688 L1855.1 1688.7 L1859.7 1688.7 L1863.7 1689.7 L1874.1 1690.4 L1879.8 1692.6 L1884.5 1697.3 L1886.7 1700.7 L1891.4 1703.6 L1897.1 1705.3 L1902 1704.7 L1906.3 1705.1 L1908.1 1709.7 L1909.8 1714.5 L1913.3 1717.6 L1921.2 1720.8 L1924.2 1721.6 L1930 1721.2 L1932.8 1724.1 L1933.2 1728.4 L1934.6 1730.2 L1938.5 1735.8 L1941.5 1740.3 L1942.9 1746.7 L1942.9 1752.2 L1943.1 1756.5 L1945.8 1756.1 L1946.9 1758.2 L1947.2 1761.1 L1948.2 1770.2 L1952.7 1775.8 L1954.4 1781.5 L1956.6 1784.9 L1961.7 1788.8 L1961.2 1792.2 L1958.4 1793.3 L1960 1795 L1960 1800.1 L1967.9 1809.6 L1970.7 1815.3 L1970.7 1822 L1978.1 1828.8 L1979.2 1842.3 L1984.2 1845.7 L1985.9 1859.2 L1987.6 1861.5 L1989.4 1867.1 L1994.4 1872.7 L1999.5 1876" fill="none" stroke="#000" stroke-width="3.5" stroke-linejoin="round"/>
<path d="M1947.1 1762.2 L1999.5 1756.8" fill="none" stroke="#000" stroke-width="3.5"/>
<path d="M1849 1705.4 L1851.5 1703.1 L1854 1704.7 L1860.5 1704.7 L1863.7 1706.9 L1864.1 1708.6 L1860.2 1706.9 L1855.1 1706.9 L1849.7 1706.4 Z" fill="#000" stroke="#000" stroke-width="3" stroke-linejoin="round"/>
<path d="M1864.5 1703.6 L1866.6 1702.7 L1872 1704.7 L1876.7 1705.8 L1876.3 1707.5 L1869.5 1709.3 L1865.9 1707.9 L1864.5 1705.4 Z" fill="#000" stroke="#000" stroke-width="3" stroke-linejoin="round"/>
<path d="M1877.4 1733.1 L1880.3 1736.3 L1879.9 1737.7 L1876.3 1737.4 Z" fill="#000" stroke="#000" stroke-width="3" stroke-linejoin="round"/>
<path d="M1903.4 1726.6 L1905.7 1725.7 L1912 1729.4 L1909.7 1731.8 L1906.8 1732.3 L1905.7 1730.1 L1904 1728.3 Z" fill="#000" stroke="#000" stroke-width="3" stroke-linejoin="round"/>
<path d="M1903.1 1743.5 L1905.1 1742.7 L1912 1750.7 L1911.5 1752.4 L1909.2 1752.8 L1906.3 1749 Z" fill="#000" stroke="#000" stroke-width="3" stroke-linejoin="round"/>
<path d="M1908.2 1889.6 L1911.4 1888.2 L1914.2 1889.3 L1914.4 1891.5 L1916.1 1894.7 L1916.4 1900 L1913.6 1903.6 L1911.7 1902.2 L1909.5 1897.2 L1907.7 1893.4 Z" fill="#000" stroke="#000" stroke-width="3" stroke-linejoin="round"/>
<circle cx="1840.6" cy="1665.3" r="7.1" fill="#FFFFFF" stroke="#1a1a1a" stroke-width="0.8"/>
<circle cx="1835.8" cy="1668" r="7.1" fill="#FFFFFF" stroke="#1a1a1a" stroke-width="0.8"/>
<circle cx="1817.4" cy="1679.6" r="7.1" fill="#FEE6DC" stroke="#1a1a1a" stroke-width="0.8"/>
<circle cx="1796.9" cy="1691.9" r="7.1" fill="#FDCBB8" stroke="#1a1a1a" stroke-width="0.8"/>
<circle cx="1776.4" cy="1704.9" r="7.1" fill="#FDD5C4" stroke="#1a1a1a" stroke-width="0.8"/>
<circle cx="1839.2" cy="1694.6" r="7.1" fill="#FEE4D8" stroke="#1a1a1a" stroke-width="0.8"/>
<circle cx="1862.2" cy="1696.3" r="7.1" fill="#FEE4D8" stroke="#1a1a1a" stroke-width="0.8"/>
<circle cx="1877.2" cy="1700.1" r="7.1" fill="#FFFFFF" stroke="#1a1a1a" stroke-width="0.8"/>
<circle cx="1808.8" cy="1713.7" r="7.1" fill="#FED8C8" stroke="#1a1a1a" stroke-width="0.8"/>
<circle cx="1788.4" cy="1726.7" r="7.1" fill="#FDBBA3" stroke="#1a1a1a" stroke-width="0.8"/>
<circle cx="1736.4" cy="1730.1" r="7.1" fill="#FCAF96" stroke="#1a1a1a" stroke-width="0.8"/>
<circle cx="1820.4" cy="1735.9" r="7.1" fill="#FCA890" stroke="#1a1a1a" stroke-width="0.8"/>
<circle cx="1800.3" cy="1748.3" r="7.1" fill="#FC9A7E" stroke="#1a1a1a" stroke-width="0.8"/>
<circle cx="1748.4" cy="1752" r="7.1" fill="#FCAF96" stroke="#1a1a1a" stroke-width="0.8"/>
<circle cx="1780.2" cy="1760.9" r="7.1" fill="#FEE4D8" stroke="#1a1a1a" stroke-width="0.8"/>
<circle cx="1832.4" cy="1757.8" r="7.1" fill="#FCB59C" stroke="#1a1a1a" stroke-width="0.8"/>
<circle cx="1812.3" cy="1770.7" r="7.1" fill="#FDBBA3" stroke="#1a1a1a" stroke-width="0.8"/>
<circle cx="1760.4" cy="1773.8" r="7.1" fill="#FC9A7E" stroke="#1a1a1a" stroke-width="0.8"/>
<circle cx="1792.4" cy="1783.7" r="7.1" fill="#FCAF96" stroke="#1a1a1a" stroke-width="0.8"/>
<circle cx="1740.5" cy="1786.8" r="7.1" fill="#FCA08A" stroke="#1a1a1a" stroke-width="0.8"/>
<circle cx="1844" cy="1780" r="7.1" fill="#FED8C8" stroke="#1a1a1a" stroke-width="0.8"/>
<circle cx="1906.8" cy="1710.7" r="7.1" fill="#FDCBB8" stroke="#1a1a1a" stroke-width="0.8"/>
<circle cx="1893.2" cy="1720.3" r="7.1" fill="#FFFFFF" stroke="#1a1a1a" stroke-width="0.8"/>
<circle cx="1882.9" cy="1726" r="7.1" fill="#FDC4B0" stroke="#1a1a1a" stroke-width="0.8"/>
<circle cx="1873.1" cy="1733.1" r="7.1" fill="#FED5C4" stroke="#1a1a1a" stroke-width="0.8"/>
<circle cx="1910.2" cy="1738" r="7.1" fill="#FDCBB8" stroke="#1a1a1a" stroke-width="0.8"/>
<circle cx="1942.7" cy="1746.5" r="7.1" fill="#FEEAE0" stroke="#1a1a1a" stroke-width="0.8"/>
<circle cx="1935.1" cy="1750.9" r="7.1" fill="#FB5E3E" stroke="#1a1a1a" stroke-width="0.8"/>
<circle cx="1878.1" cy="1758.1" r="7.1" fill="#FEE4D8" stroke="#1a1a1a" stroke-width="0.8"/>
<circle cx="1905.5" cy="1770" r="7.1" fill="#FEEAE0" stroke="#1a1a1a" stroke-width="0.8"/>
<circle cx="1895.2" cy="1776.3" r="7.1" fill="#FFFFFF" stroke="#1a1a1a" stroke-width="0.8"/>
<circle cx="1855.4" cy="1801.8" r="7.1" fill="#FFFFFF" stroke="#1a1a1a" stroke-width="0.8"/>
<circle cx="1835.8" cy="1814.5" r="7.1" fill="#FDC4B0" stroke="#1a1a1a" stroke-width="0.8"/>
<circle cx="1804.4" cy="1805.6" r="7.1" fill="#FCB59C" stroke="#1a1a1a" stroke-width="0.8"/>
<circle cx="1753.2" cy="1808.9" r="7.1" fill="#FCA08A" stroke="#1a1a1a" stroke-width="0.8"/>
<circle cx="1796.5" cy="1840" r="7.1" fill="#FEE4D8" stroke="#1a1a1a" stroke-width="0.8"/>
<circle cx="1745.4" cy="1843.5" r="7.1" fill="#FC9070" stroke="#1a1a1a" stroke-width="0.8"/>
<circle cx="1757.7" cy="1865.3" r="7.1" fill="#FCA890" stroke="#1a1a1a" stroke-width="0.8"/>
</g>
<rect x="1643.1" y="1576.7" width="351.9" height="374.3" fill="none" stroke="#000" stroke-width="2.4"/>
<text transform="translate(1641 1516.1) scale(1 1.0)" font-size="28.8" textLength="314.65" lengthAdjust="spacingAndGlyphs">Heterotrophic Eukaryotic</text>
<text transform="translate(1641 1546.7) scale(1 1.0)" font-size="28.8" textLength="96.89" lengthAdjust="spacingAndGlyphs">Protists</text>
<line x1="1717.3" y1="1952.4" x2="1717.3" y2="1963.9" stroke="#333333" stroke-width="4.2"/>
<text transform="translate(1717.3 1994) scale(1 1.0)" font-size="28.8" text-anchor="middle" fill="#4D4D4D">−125</text>
<line x1="1804.9" y1="1952.4" x2="1804.9" y2="1963.9" stroke="#333333" stroke-width="4.2"/>
<text transform="translate(1804.9 1994) scale(1 1.0)" font-size="28.8" text-anchor="middle" fill="#4D4D4D">−122</text>
<line x1="1892.5" y1="1952.4" x2="1892.5" y2="1963.9" stroke="#333333" stroke-width="4.2"/>
<text transform="translate(1892.5 1994) scale(1 1.0)" font-size="28.8" text-anchor="middle" fill="#4D4D4D">−119</text>
<text transform="translate(1755.7 2031) scale(1 1.0)" font-size="28.8" textLength="126.83" lengthAdjust="spacingAndGlyphs">Longitude</text>
<text transform="translate(1652 1604.2) scale(1 1.0)" font-size="29.5" font-weight="bold">k</text>
<text transform="translate(1910.1 1608.1) scale(1 1.0)" font-size="20.6" textLength="69.39" lengthAdjust="spacingAndGlyphs">Surface</text>
<text transform="translate(1837.4 1636.6) scale(1 1.0)" font-size="20.6" textLength="141.88" lengthAdjust="spacingAndGlyphs">(2014−2016) vs</text>
<text transform="translate(1863.4 1664.8) scale(1 1.0)" font-size="20.6" textLength="115.88" lengthAdjust="spacingAndGlyphs">(2017−2018)</text>
<line x1="103.1" y1="1669" x2="114.7" y2="1669" stroke="#333333" stroke-width="4.2"/>
<text transform="translate(94.7 1679.6) scale(1 1.0)" font-size="28.8" text-anchor="end" fill="#4D4D4D">35.0</text>
<line x1="103.1" y1="1763.9" x2="114.7" y2="1763.9" stroke="#333333" stroke-width="4.2"/>
<text transform="translate(94.7 1774.5) scale(1 1.0)" font-size="28.8" text-anchor="end" fill="#4D4D4D">32.5</text>
<line x1="103.1" y1="1858.8" x2="114.7" y2="1858.8" stroke="#333333" stroke-width="4.2"/>
<text transform="translate(94.7 1869.4) scale(1 1.0)" font-size="28.8" text-anchor="end" fill="#4D4D4D">30.0</text>
<text transform="translate(21.8 1812.8) rotate(-90)" x="-2.4" y="0" font-size="28.8" textLength="101.81" lengthAdjust="spacingAndGlyphs">Latitude</text>
<rect x="1686.8" y="1874.8" width="299.2" height="66.7" fill="#fff" stroke="#000" stroke-width="1.3"/>
<rect x="1813.7" y="1878.5" width="151.6" height="29.4" fill="url(#gR)"/>
<line x1="1889.3" y1="1878.5" x2="1889.3" y2="1884.3" stroke="#fff" stroke-width="1.3"/>
<line x1="1889.3" y1="1902.1" x2="1889.3" y2="1907.9" stroke="#fff" stroke-width="1.3"/>
<text transform="translate(1812.9 1932.6) scale(1 1.0)" font-size="19" text-anchor="middle">0.2</text>
<text transform="translate(1889.3 1932.6) scale(1 1.0)" font-size="19" text-anchor="middle">0.4</text>
<text transform="translate(1965.3 1932.6) scale(1 1.0)" font-size="19" text-anchor="middle">0.6</text>
<text transform="translate(1696 1904) scale(1 1.0)" font-size="20">Bray−Curtis</text>
<text transform="translate(1696 1926.4) scale(1 1.0)" font-size="20">Similarity</text>
</svg></body></html>
